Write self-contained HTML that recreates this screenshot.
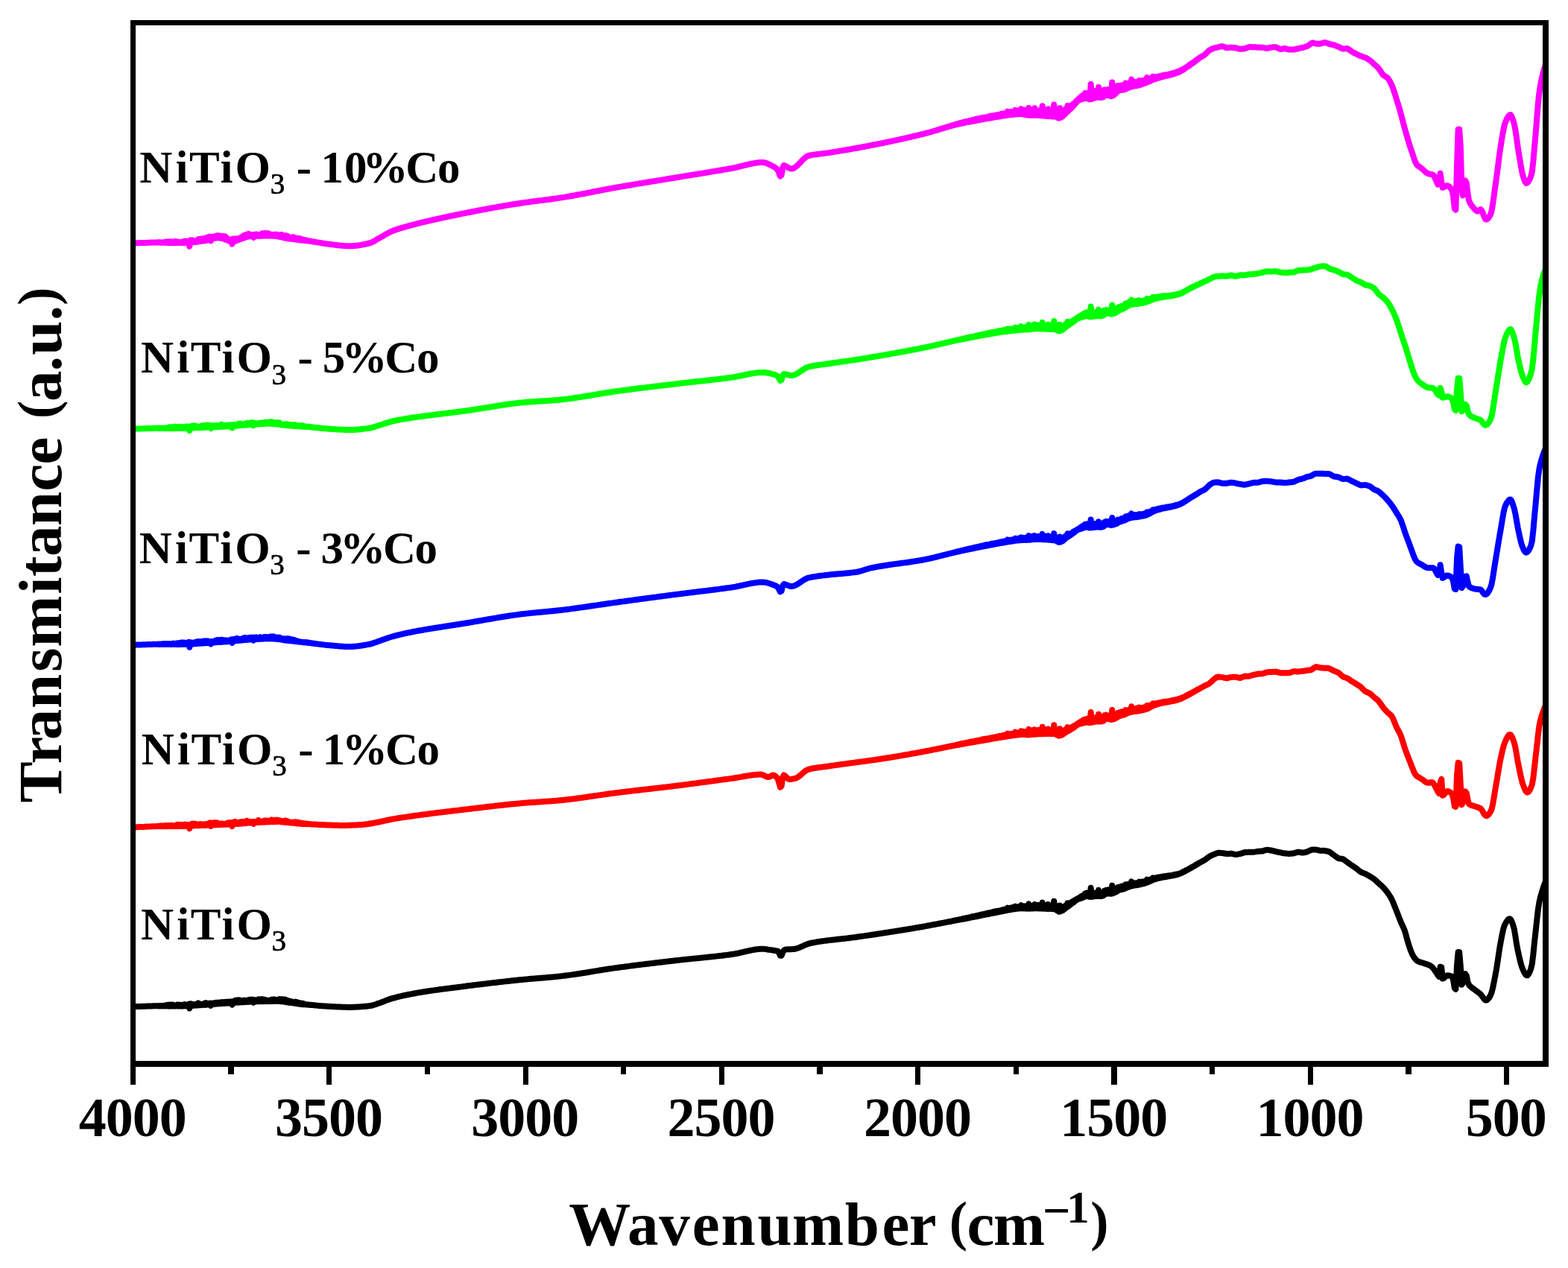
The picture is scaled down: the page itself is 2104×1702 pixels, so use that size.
<!DOCTYPE html>
<html lang="en">
<head>
<meta charset="utf-8">
<title>FTIR spectra of NiTiO3 and Co-doped NiTiO3</title>
<style>
html,body{margin:0;padding:0;background:#fff;}
body{width:2104px;height:1702px;overflow:hidden;}
svg{display:block;}
text{font-family:"Liberation Serif",serif;font-weight:bold;fill:#000;}
.tick{font-size:74px;}
.axis{font-size:83px;}
.lab{font-size:61px;}
.curve{fill:none;stroke-width:8;stroke-linejoin:round;stroke-linecap:butt;}
</style>
</head>
<body>
<svg width="2104" height="1702" viewBox="0 0 2104 1702">
<rect x="0" y="0" width="2104" height="1702" fill="#ffffff"/>
<defs><clipPath id="plot"><rect x="178.5" y="30" width="1895.5" height="1398"/></clipPath></defs>
<g clip-path="url(#plot)">
<path class="curve" stroke="#000000" d="M175.0,1351.3 176.6,1351.3 178.2,1351.2 179.8,1351.2 181.4,1351.1 183.0,1351.1 184.6,1351.0 186.2,1351.0 187.8,1350.9 189.4,1350.9 191.0,1350.8 192.6,1350.8 194.2,1350.7 195.8,1350.7 197.4,1350.6 199.0,1350.6 200.6,1350.5 202.2,1350.4 203.8,1350.4 205.4,1350.3 207.0,1350.3 208.6,1350.3 210.2,1350.3 211.5,1350.2 212.8,1350.4 214.1,1350.0 215.4,1350.4 216.7,1350.0 218.0,1350.4 219.3,1350.0 220.6,1350.4 221.9,1349.4 223.2,1350.4 224.5,1349.0 225.8,1350.4 227.1,1348.8 228.4,1350.4 229.7,1348.7 231.0,1350.4 232.3,1348.8 233.6,1350.4 234.9,1349.7 236.2,1350.4 237.5,1348.7 238.8,1350.4 240.1,1348.6 241.4,1350.4 242.7,1349.0 244.0,1350.4 245.3,1348.9 246.6,1350.3 247.9,1348.2 249.2,1350.2 250.5,1349.3 251.8,1350.1 253.1,1347.9 254.4,1353.5 255.7,1347.2 257.0,1349.8 258.3,1347.9 259.6,1349.7 260.9,1348.6 262.2,1349.5 263.5,1347.7 264.8,1349.4 266.1,1346.5 267.4,1349.2 268.7,1347.8 270.0,1349.0 271.3,1348.0 272.6,1348.8 273.9,1346.9 275.2,1348.7 276.5,1346.3 277.8,1348.5 279.1,1347.0 280.4,1348.3 281.7,1346.8 283.0,1349.8 284.3,1346.7 285.6,1347.9 286.9,1346.4 288.2,1347.7 289.5,1345.9 290.8,1347.5 292.1,1345.7 293.4,1347.3 294.7,1345.7 296.0,1347.1 297.3,1345.3 298.6,1346.9 299.9,1345.1 301.2,1346.8 302.5,1345.0 303.8,1346.6 305.1,1344.8 306.4,1346.4 307.7,1344.7 309.0,1346.2 310.3,1344.5 311.6,1348.7 312.9,1344.3 314.2,1345.9 315.5,1342.8 316.8,1345.7 318.1,1342.4 319.4,1345.6 320.7,1342.3 322.0,1345.4 323.3,1342.8 324.6,1345.2 325.9,1343.2 327.2,1345.1 328.5,1342.6 329.8,1344.9 331.1,1343.2 332.4,1344.8 333.7,1342.1 335.0,1344.6 336.3,1341.7 337.6,1344.5 338.9,1341.6 340.2,1345.8 341.5,1342.1 342.8,1344.3 344.1,1342.9 345.4,1344.2 346.7,1341.4 348.0,1344.2 349.3,1341.4 350.6,1344.1 351.9,1341.2 353.2,1344.1 354.5,1341.8 355.8,1344.0 357.1,1342.6 358.4,1344.0 359.7,1342.8 361.0,1343.9 362.3,1342.7 363.6,1343.9 364.9,1341.6 366.2,1343.9 367.5,1341.3 368.8,1343.8 370.1,1341.9 371.4,1343.8 372.7,1341.9 374.0,1343.8 375.3,1341.1 376.6,1344.0 377.9,1341.1 379.2,1344.3 380.5,1341.3 381.8,1344.7 383.1,1341.7 384.4,1345.1 385.7,1342.9 387.0,1345.5 388.3,1343.7 389.6,1345.8 390.9,1344.2 392.2,1346.1 393.5,1345.4 394.8,1346.5 396.1,1344.7 397.4,1346.9 398.7,1345.3 400.0,1347.3 401.3,1346.3 402.6,1347.7 403.9,1346.7 405.2,1348.0 406.5,1347.0 407.8,1348.3 409.1,1347.8 410.4,1348.5 411.7,1348.4 413.0,1348.7 414.3,1348.6 415.6,1348.9 416.9,1348.8 418.2,1349.0 419.8,1349.1 421.4,1349.3 423.0,1349.5 424.6,1349.6 426.2,1349.8 427.8,1349.9 429.4,1350.1 431.0,1350.2 432.6,1350.3 434.2,1350.4 435.8,1350.5 437.4,1350.6 439.0,1350.7 440.6,1350.8 442.2,1350.9 443.8,1351.0 445.4,1351.1 447.0,1351.2 448.6,1351.3 450.2,1351.3 451.8,1351.4 453.4,1351.5 455.0,1351.6 456.6,1351.6 458.2,1351.7 459.8,1351.7 461.4,1351.8 463.0,1351.8 464.6,1351.9 466.2,1351.9 467.8,1351.9 469.4,1351.9 471.0,1351.9 472.6,1351.9 474.2,1351.8 475.8,1351.8 477.4,1351.7 479.0,1351.6 480.6,1351.6 482.2,1351.5 483.8,1351.3 485.4,1351.2 487.0,1351.1 488.6,1351.0 490.2,1350.8 491.8,1350.7 493.4,1350.5 495.0,1350.3 496.6,1350.1 498.2,1349.8 499.8,1349.5 501.4,1349.0 503.0,1348.5 504.6,1347.9 506.2,1347.3 507.8,1346.8 509.4,1346.2 511.0,1345.7 512.6,1345.1 514.2,1344.5 515.8,1343.9 517.4,1343.2 519.0,1342.6 520.6,1342.0 522.2,1341.4 523.8,1340.9 525.4,1340.4 527.0,1339.9 528.6,1339.5 530.2,1339.1 531.8,1338.6 533.4,1338.2 535.0,1337.8 536.6,1337.4 538.2,1337.1 539.8,1336.7 541.4,1336.3 543.0,1336.0 544.6,1335.7 546.2,1335.3 547.8,1335.0 549.4,1334.7 551.0,1334.4 552.6,1334.1 554.2,1333.8 555.8,1333.5 557.4,1333.2 559.0,1332.9 560.6,1332.6 562.2,1332.3 563.8,1332.1 565.4,1331.8 567.0,1331.6 568.6,1331.3 570.2,1331.0 571.8,1330.8 573.4,1330.5 575.0,1330.3 576.6,1330.1 578.2,1329.8 579.8,1329.6 581.4,1329.4 583.0,1329.1 584.6,1328.9 586.2,1328.7 587.8,1328.5 589.4,1328.2 591.0,1328.0 592.6,1327.8 594.2,1327.6 595.8,1327.4 597.4,1327.2 599.0,1327.0 600.6,1326.8 602.2,1326.6 603.8,1326.4 605.4,1326.2 607.0,1326.0 608.6,1325.8 610.2,1325.6 611.8,1325.4 613.4,1325.2 615.0,1325.0 616.6,1324.8 618.2,1324.6 619.8,1324.4 621.4,1324.2 623.0,1324.0 624.6,1323.8 626.2,1323.5 627.8,1323.3 629.4,1323.1 631.0,1322.9 632.6,1322.7 634.2,1322.5 635.8,1322.3 637.4,1322.1 639.0,1321.9 640.6,1321.7 642.2,1321.5 643.8,1321.4 645.4,1321.2 647.0,1321.0 648.6,1320.8 650.2,1320.6 651.8,1320.4 653.4,1320.2 655.0,1320.0 656.6,1319.8 658.2,1319.6 659.8,1319.4 661.4,1319.2 663.0,1319.0 664.6,1318.9 666.2,1318.7 667.8,1318.5 669.4,1318.3 671.0,1318.1 672.6,1317.9 674.2,1317.8 675.8,1317.6 677.4,1317.4 679.0,1317.2 680.6,1317.0 682.2,1316.9 683.8,1316.7 685.4,1316.5 687.0,1316.3 688.6,1316.2 690.2,1316.0 691.8,1315.8 693.4,1315.7 695.0,1315.5 696.6,1315.3 698.2,1315.2 699.8,1315.0 701.4,1314.9 703.0,1314.7 704.6,1314.6 706.2,1314.4 707.8,1314.3 709.4,1314.1 711.0,1314.0 712.6,1313.8 714.2,1313.7 715.8,1313.6 717.4,1313.4 719.0,1313.3 720.6,1313.2 722.2,1313.0 723.8,1312.9 725.4,1312.8 727.0,1312.7 728.6,1312.5 730.2,1312.4 731.8,1312.3 733.4,1312.1 735.0,1312.0 736.6,1311.8 738.2,1311.7 739.8,1311.6 741.4,1311.4 743.0,1311.3 744.6,1311.1 746.2,1310.9 747.8,1310.8 749.4,1310.6 751.0,1310.4 752.6,1310.3 754.2,1310.1 755.8,1309.9 757.4,1309.7 759.0,1309.5 760.6,1309.3 762.2,1309.1 763.8,1308.9 765.4,1308.6 767.0,1308.4 768.6,1308.2 770.2,1307.9 771.8,1307.7 773.4,1307.5 775.0,1307.2 776.6,1307.0 778.2,1306.7 779.8,1306.5 781.4,1306.2 783.0,1306.0 784.6,1305.7 786.2,1305.5 787.8,1305.2 789.4,1305.0 791.0,1304.7 792.6,1304.4 794.2,1304.2 795.8,1303.9 797.4,1303.6 799.0,1303.4 800.6,1303.1 802.2,1302.9 803.8,1302.6 805.4,1302.3 807.0,1302.1 808.6,1301.8 810.2,1301.6 811.8,1301.3 813.4,1301.1 815.0,1300.8 816.6,1300.6 818.2,1300.3 819.8,1300.1 821.4,1299.9 823.0,1299.6 824.6,1299.4 826.2,1299.2 827.8,1299.0 829.4,1298.8 831.0,1298.5 832.6,1298.3 834.2,1298.1 835.8,1297.9 837.4,1297.7 839.0,1297.5 840.6,1297.3 842.2,1297.1 843.8,1296.9 845.4,1296.6 847.0,1296.4 848.6,1296.2 850.2,1296.0 851.8,1295.8 853.4,1295.6 855.0,1295.4 856.6,1295.2 858.2,1295.0 859.8,1294.8 861.4,1294.6 863.0,1294.4 864.6,1294.2 866.2,1294.0 867.8,1293.8 869.4,1293.7 871.0,1293.5 872.6,1293.3 874.2,1293.1 875.8,1292.9 877.4,1292.7 879.0,1292.5 880.6,1292.3 882.2,1292.1 883.8,1291.9 885.4,1291.7 887.0,1291.5 888.6,1291.4 890.2,1291.2 891.8,1291.0 893.4,1290.8 895.0,1290.6 896.6,1290.4 898.2,1290.2 899.8,1290.0 901.4,1289.9 903.0,1289.7 904.6,1289.5 906.2,1289.3 907.8,1289.1 909.4,1288.9 911.0,1288.8 912.6,1288.6 914.2,1288.4 915.8,1288.2 917.4,1288.1 919.0,1287.9 920.6,1287.7 922.2,1287.6 923.8,1287.4 925.4,1287.2 927.0,1287.1 928.6,1286.9 930.2,1286.7 931.8,1286.6 933.4,1286.4 935.0,1286.3 936.6,1286.1 938.2,1285.9 939.8,1285.8 941.4,1285.6 943.0,1285.4 944.6,1285.3 946.2,1285.1 947.8,1285.0 949.4,1284.8 951.0,1284.6 952.6,1284.5 954.2,1284.3 955.8,1284.1 957.4,1283.9 959.0,1283.8 960.6,1283.6 962.2,1283.4 963.8,1283.2 965.4,1283.0 967.0,1282.9 968.6,1282.7 970.2,1282.5 971.8,1282.3 973.4,1282.1 975.0,1281.9 976.6,1281.7 978.2,1281.5 979.8,1281.2 981.4,1281.0 983.0,1280.8 984.6,1280.6 986.2,1280.3 987.8,1280.0 989.4,1279.7 991.0,1279.3 992.6,1279.0 994.2,1278.6 995.8,1278.2 997.4,1277.9 999.0,1277.5 1000.6,1277.1 1002.2,1276.7 1003.8,1276.4 1005.4,1276.0 1007.0,1275.7 1008.6,1275.4 1010.2,1275.1 1011.8,1274.8 1013.4,1274.5 1015.0,1274.3 1016.6,1274.1 1018.2,1273.9 1019.8,1273.8 1021.4,1273.7 1023.0,1273.7 1024.6,1273.7 1026.2,1273.9 1027.8,1274.1 1029.4,1274.4 1031.0,1274.7 1032.6,1274.9 1034.2,1275.1 1035.8,1275.3 1037.4,1275.6 1039.0,1275.8 1040.6,1276.1 1042.2,1276.4 1043.8,1276.9 1045.4,1279.2 1047.0,1282.8 1048.6,1282.7 1050.2,1278.6 1051.8,1275.8 1053.4,1274.7 1055.0,1274.4 1056.6,1274.3 1058.2,1274.2 1059.8,1274.2 1061.4,1274.2 1063.0,1274.1 1064.6,1274.0 1066.2,1273.8 1067.8,1273.5 1069.4,1273.0 1071.0,1272.5 1072.6,1271.9 1074.2,1271.2 1075.8,1270.5 1077.4,1269.8 1079.0,1269.0 1080.6,1268.3 1082.2,1267.7 1083.8,1267.1 1085.4,1266.6 1087.0,1266.1 1088.6,1265.8 1090.2,1265.5 1091.8,1265.2 1093.4,1264.9 1095.0,1264.6 1096.6,1264.3 1098.2,1264.1 1099.8,1263.8 1101.4,1263.6 1103.0,1263.3 1104.6,1263.1 1106.2,1262.9 1107.8,1262.7 1109.4,1262.5 1111.0,1262.3 1112.6,1262.1 1114.2,1261.9 1115.8,1261.7 1117.4,1261.5 1119.0,1261.4 1120.6,1261.2 1122.2,1261.0 1123.8,1260.8 1125.4,1260.6 1127.0,1260.5 1128.6,1260.3 1130.2,1260.1 1131.8,1260.0 1133.4,1259.8 1135.0,1259.6 1136.6,1259.4 1138.2,1259.2 1139.8,1259.0 1141.4,1258.8 1143.0,1258.6 1144.6,1258.4 1146.2,1258.2 1147.8,1258.0 1149.4,1257.8 1151.0,1257.5 1152.6,1257.3 1154.2,1257.1 1155.8,1256.8 1157.4,1256.6 1159.0,1256.4 1160.6,1256.1 1162.2,1255.9 1163.8,1255.7 1165.4,1255.4 1167.0,1255.2 1168.6,1255.0 1170.2,1254.7 1171.8,1254.5 1173.4,1254.3 1175.0,1254.0 1176.6,1253.8 1178.2,1253.5 1179.8,1253.3 1181.4,1253.1 1183.0,1252.8 1184.6,1252.6 1186.2,1252.3 1187.8,1252.1 1189.4,1251.8 1191.0,1251.6 1192.6,1251.3 1194.2,1251.1 1195.8,1250.8 1197.4,1250.6 1199.0,1250.3 1200.6,1250.1 1202.2,1249.8 1203.8,1249.6 1205.4,1249.3 1207.0,1249.1 1208.6,1248.8 1210.2,1248.5 1211.8,1248.3 1213.4,1248.0 1215.0,1247.7 1216.6,1247.5 1218.2,1247.2 1219.8,1247.0 1221.4,1246.7 1223.0,1246.4 1224.6,1246.2 1226.2,1245.9 1227.8,1245.6 1229.4,1245.3 1231.0,1245.1 1232.6,1244.8 1234.2,1244.5 1235.8,1244.2 1237.4,1244.0 1239.0,1243.7 1240.6,1243.4 1242.2,1243.1 1243.8,1242.8 1245.4,1242.5 1247.0,1242.2 1248.6,1241.9 1250.2,1241.6 1251.8,1241.3 1253.4,1241.0 1255.0,1240.7 1256.6,1240.4 1258.2,1240.1 1259.8,1239.8 1261.4,1239.5 1263.0,1239.2 1264.6,1238.9 1266.2,1238.6 1267.8,1238.3 1269.4,1237.9 1271.0,1237.6 1272.6,1237.3 1273.9,1237.0 1275.2,1236.9 1276.5,1236.4 1277.8,1236.4 1279.1,1235.8 1280.4,1235.9 1281.7,1235.3 1283.0,1235.4 1284.3,1234.8 1285.6,1234.9 1286.9,1234.3 1288.2,1234.4 1289.5,1233.7 1290.8,1234.0 1292.1,1233.0 1293.4,1233.5 1294.7,1232.5 1296.0,1233.0 1297.3,1232.0 1298.6,1232.5 1299.9,1231.5 1301.2,1231.9 1302.5,1230.8 1303.8,1231.4 1305.1,1230.2 1306.4,1230.9 1307.7,1229.8 1309.0,1230.4 1310.3,1229.1 1311.6,1229.8 1312.9,1228.5 1314.2,1229.3 1315.5,1227.9 1316.8,1228.8 1318.1,1227.4 1319.4,1228.2 1320.7,1226.8 1322.0,1227.7 1323.3,1226.2 1324.6,1227.2 1325.9,1225.6 1327.2,1226.7 1328.5,1225.1 1329.8,1226.1 1331.1,1224.5 1332.4,1225.6 1333.7,1223.8 1335.0,1225.1 1336.3,1223.3 1337.6,1224.6 1338.9,1222.7 1340.2,1224.1 1341.5,1222.5 1342.8,1223.6 1344.1,1221.6 1345.4,1223.1 1346.7,1221.0 1348.0,1222.6 1349.3,1220.5 1350.6,1222.1 1351.9,1218.5 1353.2,1221.6 1354.5,1219.1 1355.8,1221.1 1357.1,1218.3 1358.4,1220.6 1359.7,1217.8 1361.0,1220.2 1362.3,1216.6 1363.6,1219.9 1364.9,1217.4 1366.2,1219.6 1367.5,1217.2 1368.8,1219.3 1370.1,1215.1 1371.4,1219.3 1372.7,1216.1 1374.0,1219.4 1375.3,1216.3 1376.6,1219.5 1377.9,1216.1 1379.2,1219.6 1380.5,1213.4 1381.8,1219.6 1383.1,1215.9 1384.4,1219.4 1385.7,1215.9 1387.0,1219.3 1388.3,1214.0 1389.6,1219.3 1390.9,1215.7 1392.2,1219.3 1393.5,1214.8 1394.8,1219.4 1396.1,1214.9 1397.4,1219.4 1398.7,1211.5 1400.0,1219.6 1401.3,1214.9 1402.6,1219.7 1403.9,1215.5 1405.2,1219.8 1406.5,1213.9 1407.8,1219.9 1409.1,1216.0 1410.4,1220.0 1411.7,1215.6 1413.0,1220.1 1414.3,1209.6 1415.6,1220.2 1416.9,1216.1 1418.2,1221.9 1419.5,1218.0 1420.8,1223.6 1422.1,1215.5 1423.4,1223.4 1424.7,1218.2 1426.0,1222.2 1427.3,1217.1 1428.6,1220.2 1429.9,1215.5 1431.2,1218.2 1432.5,1212.2 1433.8,1216.4 1435.1,1212.5 1436.4,1214.4 1437.7,1210.9 1439.0,1212.5 1440.3,1209.3 1441.6,1210.5 1442.9,1207.9 1444.2,1208.5 1445.5,1206.4 1446.8,1206.9 1448.1,1204.9 1449.4,1206.1 1450.7,1203.1 1452.0,1205.3 1453.3,1201.8 1454.6,1204.3 1455.9,1199.5 1457.2,1203.1 1458.5,1198.5 1459.8,1203.2 1461.1,1198.4 1462.4,1203.8 1463.7,1191.8 1465.0,1203.8 1466.3,1198.6 1467.6,1203.4 1468.9,1198.6 1470.2,1203.0 1471.5,1198.7 1472.8,1202.8 1474.1,1194.8 1475.4,1202.9 1476.7,1198.9 1478.0,1203.0 1479.3,1198.6 1480.6,1202.3 1481.9,1195.7 1483.2,1200.3 1484.5,1194.7 1485.8,1199.3 1487.1,1194.3 1488.4,1199.4 1489.7,1194.9 1491.0,1199.6 1492.3,1188.6 1493.6,1199.2 1494.9,1194.6 1496.2,1198.1 1497.5,1193.1 1498.8,1196.7 1500.1,1191.1 1501.4,1195.0 1502.7,1190.6 1504.0,1194.2 1505.3,1189.5 1506.6,1193.6 1507.9,1189.0 1509.2,1192.9 1510.5,1187.3 1511.8,1191.7 1513.1,1187.1 1514.4,1190.7 1515.7,1186.4 1517.0,1189.8 1518.3,1183.3 1519.6,1189.1 1520.9,1185.2 1522.2,1188.6 1523.5,1185.3 1524.8,1188.2 1526.1,1185.2 1527.4,1187.7 1528.7,1183.7 1530.0,1187.2 1531.3,1183.6 1532.6,1186.6 1533.9,1183.4 1535.2,1185.9 1536.5,1183.0 1537.8,1185.1 1539.1,1180.6 1540.4,1184.2 1541.7,1181.3 1543.0,1183.0 1544.3,1180.1 1545.6,1181.8 1546.9,1178.3 1548.2,1180.7 1549.5,1178.7 1550.8,1179.8 1552.1,1178.1 1553.4,1179.1 1554.7,1177.5 1556.0,1178.5 1557.3,1177.1 1558.6,1178.0 1559.9,1176.7 1561.2,1177.5 1562.5,1176.2 1563.8,1177.1 1565.1,1175.8 1566.4,1176.6 1567.7,1175.4 1569.0,1176.2 1570.3,1175.1 1571.6,1175.7 1572.9,1174.7 1574.2,1175.2 1575.5,1174.1 1576.8,1174.7 1578.1,1173.5 1579.4,1174.0 1580.7,1173.0 1582.0,1173.3 1583.3,1172.2 1584.6,1172.3 1585.9,1170.9 1587.2,1171.1 1588.5,1169.6 1589.8,1169.8 1591.1,1168.3 1592.4,1168.3 1593.7,1166.9 1595.0,1166.8 1596.3,1165.5 1597.6,1165.3 1598.9,1164.0 1600.2,1163.9 1601.5,1162.6 1602.8,1162.3 1604.1,1161.0 1605.4,1160.8 1606.7,1159.5 1608.0,1159.3 1609.3,1158.1 1610.6,1157.7 1611.9,1156.8 1613.2,1156.3 1614.5,1155.4 1615.8,1154.8 1617.4,1153.7 1619.0,1152.5 1620.6,1151.3 1622.2,1150.1 1623.8,1149.2 1625.4,1148.4 1627.0,1147.7 1628.6,1147.0 1630.2,1146.3 1631.8,1145.7 1633.4,1145.1 1635.0,1144.8 1636.6,1144.8 1638.2,1144.9 1639.8,1145.0 1641.4,1145.2 1643.0,1145.5 1644.6,1145.8 1646.2,1146.1 1647.8,1146.0 1649.4,1145.9 1651.0,1145.8 1652.6,1145.8 1654.2,1146.2 1655.8,1146.6 1657.4,1146.9 1659.0,1146.9 1660.6,1146.7 1662.2,1146.4 1663.8,1146.1 1665.4,1145.6 1667.0,1145.1 1668.6,1144.6 1670.2,1144.1 1671.8,1144.0 1673.4,1143.9 1675.0,1143.8 1676.6,1143.7 1678.2,1143.7 1679.8,1143.7 1681.4,1143.8 1683.0,1143.6 1684.6,1143.4 1686.2,1143.1 1687.8,1142.8 1689.4,1142.7 1691.0,1142.6 1692.6,1142.5 1694.2,1142.4 1695.8,1141.8 1697.4,1141.3 1699.0,1140.9 1700.6,1140.7 1702.2,1140.9 1703.8,1141.2 1705.4,1141.5 1707.0,1141.8 1708.6,1142.1 1710.2,1142.5 1711.8,1143.0 1713.4,1143.4 1715.0,1143.7 1716.6,1144.0 1718.2,1144.3 1719.8,1144.8 1721.4,1145.1 1723.0,1145.3 1724.6,1145.5 1726.2,1145.6 1727.8,1145.8 1729.4,1145.9 1731.0,1145.8 1732.6,1145.7 1734.2,1145.5 1735.8,1145.4 1737.4,1144.9 1739.0,1144.4 1740.6,1144.0 1742.2,1143.6 1743.8,1143.9 1745.4,1144.2 1747.0,1144.5 1748.6,1144.6 1750.2,1144.3 1751.8,1143.9 1753.4,1143.5 1755.0,1142.8 1756.6,1142.1 1758.2,1141.4 1759.8,1140.7 1761.4,1140.4 1763.0,1140.4 1764.6,1140.4 1766.2,1140.6 1767.8,1140.9 1769.4,1141.3 1771.0,1141.7 1772.6,1141.9 1774.2,1141.8 1775.8,1141.7 1777.4,1141.9 1779.0,1142.2 1780.6,1142.5 1782.2,1142.9 1783.8,1143.4 1785.4,1144.5 1787.0,1145.7 1788.6,1146.9 1790.2,1148.1 1791.8,1149.2 1793.4,1150.3 1795.0,1151.5 1796.6,1152.3 1798.2,1152.5 1799.8,1152.7 1801.4,1152.9 1803.0,1153.7 1804.6,1154.9 1806.2,1156.1 1807.8,1157.3 1809.4,1158.4 1811.0,1159.5 1812.6,1160.7 1814.2,1161.8 1815.8,1162.9 1817.4,1163.9 1819.0,1165.0 1820.6,1166.2 1822.2,1167.5 1823.8,1168.8 1825.4,1170.1 1827.0,1171.0 1828.6,1171.6 1830.2,1172.2 1831.8,1172.8 1833.4,1173.6 1835.0,1174.5 1836.6,1175.4 1838.2,1176.3 1839.8,1177.3 1841.4,1178.3 1843.0,1179.3 1844.6,1180.6 1846.2,1182.0 1847.8,1183.5 1849.4,1185.1 1851.0,1186.5 1852.6,1187.9 1854.2,1189.3 1855.8,1190.8 1857.4,1192.6 1859.0,1194.5 1860.6,1196.5 1862.2,1198.7 1863.8,1201.0 1865.4,1203.4 1867.0,1206.3 1868.6,1209.6 1870.2,1213.4 1871.8,1217.4 1873.4,1221.4 1875.0,1225.5 1876.6,1229.6 1878.2,1233.7 1879.8,1237.9 1881.4,1241.3 1883.0,1244.7 1884.6,1248.6 1886.2,1253.5 1887.8,1259.7 1889.4,1265.1 1891.0,1270.3 1892.6,1275.1 1894.2,1279.1 1895.8,1282.4 1897.4,1285.0 1899.0,1287.1 1900.6,1288.8 1902.2,1290.1 1903.8,1290.8 1905.4,1291.4 1907.0,1291.9 1908.6,1292.3 1910.2,1292.8 1911.8,1293.4 1913.4,1293.9 1915.0,1294.4 1916.6,1295.0 1918.2,1295.7 1919.8,1296.6 1921.4,1297.8 1923.0,1299.6 1924.6,1301.7 1926.2,1304.0 1927.8,1306.2 1929.4,1309.0 1931.0,1311.0 1932.6,1297.8 1934.2,1298.1 1935.8,1313.5 1937.4,1312.9 1939.0,1311.3 1940.6,1309.8 1942.2,1309.3 1943.8,1309.4 1945.4,1309.7 1947.0,1310.2 1948.6,1310.9 1950.2,1316.2 1951.8,1326.3 1953.4,1327.8 1955.0,1295.8 1956.6,1278.0 1958.2,1278.0 1959.8,1297.1 1961.4,1321.7 1963.0,1319.4 1964.6,1312.5 1966.2,1307.2 1967.8,1309.6 1969.4,1317.9 1971.0,1321.7 1972.6,1323.7 1974.2,1325.1 1975.8,1326.3 1977.4,1327.4 1979.0,1328.5 1980.6,1329.8 1982.2,1331.0 1983.8,1332.1 1985.4,1333.3 1987.0,1334.8 1988.6,1336.9 1990.2,1339.2 1991.8,1341.3 1993.4,1342.6 1995.0,1342.5 1996.6,1341.2 1998.2,1339.1 1999.8,1336.4 2001.4,1332.6 2003.0,1326.4 2004.6,1318.7 2006.2,1310.4 2007.8,1301.9 2009.4,1291.8 2011.0,1281.0 2012.6,1270.7 2014.2,1261.9 2015.8,1253.6 2017.4,1246.3 2019.0,1241.6 2020.6,1238.6 2022.2,1236.0 2023.8,1234.1 2025.4,1233.2 2027.0,1234.0 2028.6,1237.0 2030.2,1241.4 2031.8,1247.1 2033.4,1256.6 2035.0,1267.1 2036.6,1275.4 2038.2,1282.9 2039.8,1289.9 2041.4,1295.8 2043.0,1300.2 2044.6,1303.8 2046.2,1306.9 2047.8,1308.9 2049.4,1309.3 2051.0,1307.7 2052.6,1304.6 2054.2,1300.3 2055.8,1293.9 2057.4,1280.7 2059.0,1264.7 2060.6,1250.3 2062.2,1235.3 2063.8,1221.3 2065.4,1211.2 2067.0,1204.2 2068.6,1198.5 2070.2,1193.4 2071.8,1188.6 2073.4,1184.4 2074.0,1183.0"/>
<path class="curve" stroke="#ff0000" d="M175.0,1110.4 176.6,1110.4 178.2,1110.3 179.8,1110.3 181.4,1110.3 183.0,1110.2 184.6,1110.2 186.2,1110.1 187.8,1110.1 189.4,1110.0 191.0,1109.9 192.6,1109.9 194.2,1109.8 195.8,1109.7 197.4,1109.6 199.0,1109.6 200.6,1109.5 202.2,1109.4 203.8,1109.3 205.4,1109.3 207.0,1109.2 208.6,1109.2 210.2,1109.1 211.5,1108.9 212.8,1109.2 214.1,1108.6 215.4,1109.2 216.7,1108.4 218.0,1109.2 219.3,1108.5 220.6,1109.1 221.9,1108.1 223.2,1109.1 224.5,1108.1 225.8,1109.1 227.1,1108.1 228.4,1109.0 229.7,1107.9 231.0,1109.0 232.3,1108.0 233.6,1109.0 234.9,1108.1 236.2,1109.0 237.5,1107.0 238.8,1108.9 240.1,1106.9 241.4,1108.9 242.7,1107.2 244.0,1108.9 245.3,1107.3 246.6,1108.8 247.9,1106.8 249.2,1108.7 250.5,1106.9 251.8,1108.6 253.1,1107.5 254.4,1112.2 255.7,1106.6 257.0,1108.4 258.3,1105.7 259.6,1108.3 260.9,1105.6 262.2,1108.2 263.5,1106.1 264.8,1108.1 266.1,1106.9 267.4,1108.0 268.7,1106.2 270.0,1107.9 271.3,1106.4 272.6,1107.8 273.9,1106.5 275.2,1107.7 276.5,1106.3 277.8,1107.6 279.1,1105.8 280.4,1107.5 281.7,1104.5 283.0,1109.0 284.3,1104.5 285.6,1107.3 286.9,1104.5 288.2,1107.2 289.5,1104.2 290.8,1107.1 292.1,1104.7 293.4,1107.0 294.7,1105.8 296.0,1106.9 297.3,1105.5 298.6,1106.8 299.9,1105.8 301.2,1106.7 302.5,1105.8 303.8,1106.6 305.1,1104.7 306.4,1106.5 307.7,1104.2 309.0,1106.3 310.3,1104.3 311.6,1109.1 312.9,1103.8 314.2,1106.0 315.5,1103.0 316.8,1105.9 318.1,1103.9 319.4,1105.7 320.7,1104.1 322.0,1105.5 323.3,1103.3 324.6,1105.3 325.9,1102.9 327.2,1105.1 328.5,1103.8 329.8,1104.9 331.1,1101.7 332.4,1104.7 333.7,1102.7 335.0,1104.5 336.3,1103.3 337.6,1104.4 338.9,1103.2 340.2,1105.8 341.5,1102.9 342.8,1104.1 344.1,1102.7 345.4,1103.9 346.7,1101.0 348.0,1103.8 349.3,1102.5 350.6,1103.7 351.9,1102.7 353.2,1103.5 354.5,1101.8 355.8,1103.4 357.1,1101.4 358.4,1103.3 359.7,1101.9 361.0,1103.2 362.3,1101.5 363.6,1103.1 364.9,1100.5 366.2,1103.0 367.5,1100.9 368.8,1103.0 370.1,1100.7 371.4,1102.9 372.7,1100.8 374.0,1102.9 375.3,1101.6 376.6,1103.0 377.9,1102.0 379.2,1103.3 380.5,1102.4 381.8,1103.5 383.1,1101.4 384.4,1103.9 385.7,1102.2 387.0,1104.1 388.3,1103.3 389.6,1104.4 390.9,1103.6 392.2,1104.6 393.5,1103.7 394.8,1104.8 396.1,1103.5 397.4,1105.1 398.7,1103.7 400.0,1105.4 401.3,1104.3 402.6,1105.6 403.9,1104.7 405.2,1105.9 406.5,1105.0 407.8,1106.0 409.1,1105.4 410.4,1106.2 411.7,1105.5 413.0,1106.2 414.3,1105.9 415.6,1106.3 416.9,1106.2 418.2,1106.4 419.8,1106.4 421.4,1106.5 423.0,1106.6 424.6,1106.7 426.2,1106.8 427.8,1106.9 429.4,1107.0 431.0,1107.0 432.6,1107.1 434.2,1107.2 435.8,1107.2 437.4,1107.3 439.0,1107.4 440.6,1107.4 442.2,1107.5 443.8,1107.5 445.4,1107.6 447.0,1107.7 448.6,1107.7 450.2,1107.8 451.8,1107.8 453.4,1107.8 455.0,1107.9 456.6,1107.9 458.2,1107.9 459.8,1107.9 461.4,1107.9 463.0,1107.9 464.6,1107.9 466.2,1107.8 467.8,1107.8 469.4,1107.7 471.0,1107.7 472.6,1107.6 474.2,1107.5 475.8,1107.5 477.4,1107.4 479.0,1107.3 480.6,1107.2 482.2,1107.1 483.8,1107.0 485.4,1106.9 487.0,1106.8 488.6,1106.7 490.2,1106.5 491.8,1106.3 493.4,1106.1 495.0,1105.8 496.6,1105.5 498.2,1105.2 499.8,1105.0 501.4,1104.7 503.0,1104.4 504.6,1104.1 506.2,1103.8 507.8,1103.5 509.4,1103.1 511.0,1102.8 512.6,1102.5 514.2,1102.1 515.8,1101.7 517.4,1101.4 519.0,1101.0 520.6,1100.7 522.2,1100.3 523.8,1100.0 525.4,1099.7 527.0,1099.4 528.6,1099.1 530.2,1098.9 531.8,1098.6 533.4,1098.3 535.0,1098.1 536.6,1097.8 538.2,1097.6 539.8,1097.3 541.4,1097.1 543.0,1096.9 544.6,1096.6 546.2,1096.4 547.8,1096.2 549.4,1095.9 551.0,1095.7 552.6,1095.5 554.2,1095.3 555.8,1095.0 557.4,1094.8 559.0,1094.6 560.6,1094.4 562.2,1094.2 563.8,1093.9 565.4,1093.7 567.0,1093.5 568.6,1093.3 570.2,1093.1 571.8,1092.9 573.4,1092.7 575.0,1092.5 576.6,1092.3 578.2,1092.1 579.8,1091.8 581.4,1091.6 583.0,1091.4 584.6,1091.2 586.2,1091.0 587.8,1090.8 589.4,1090.6 591.0,1090.4 592.6,1090.3 594.2,1090.1 595.8,1089.9 597.4,1089.7 599.0,1089.5 600.6,1089.3 602.2,1089.1 603.8,1088.9 605.4,1088.7 607.0,1088.5 608.6,1088.3 610.2,1088.1 611.8,1087.9 613.4,1087.8 615.0,1087.6 616.6,1087.4 618.2,1087.2 619.8,1087.0 621.4,1086.8 623.0,1086.6 624.6,1086.4 626.2,1086.3 627.8,1086.1 629.4,1085.9 631.0,1085.7 632.6,1085.5 634.2,1085.3 635.8,1085.1 637.4,1084.9 639.0,1084.7 640.6,1084.5 642.2,1084.4 643.8,1084.2 645.4,1084.0 647.0,1083.8 648.6,1083.6 650.2,1083.4 651.8,1083.2 653.4,1083.0 655.0,1082.8 656.6,1082.7 658.2,1082.5 659.8,1082.3 661.4,1082.1 663.0,1081.9 664.6,1081.7 666.2,1081.6 667.8,1081.4 669.4,1081.2 671.0,1081.0 672.6,1080.8 674.2,1080.7 675.8,1080.5 677.4,1080.3 679.0,1080.1 680.6,1080.0 682.2,1079.8 683.8,1079.6 685.4,1079.5 687.0,1079.3 688.6,1079.2 690.2,1079.0 691.8,1078.9 693.4,1078.7 695.0,1078.6 696.6,1078.4 698.2,1078.3 699.8,1078.1 701.4,1078.0 703.0,1077.8 704.6,1077.7 706.2,1077.6 707.8,1077.5 709.4,1077.3 711.0,1077.2 712.6,1077.1 714.2,1077.0 715.8,1076.9 717.4,1076.8 719.0,1076.7 720.6,1076.6 722.2,1076.5 723.8,1076.4 725.4,1076.3 727.0,1076.1 728.6,1076.0 730.2,1075.9 731.8,1075.8 733.4,1075.7 735.0,1075.6 736.6,1075.5 738.2,1075.4 739.8,1075.3 741.4,1075.1 743.0,1075.0 744.6,1074.9 746.2,1074.8 747.8,1074.6 749.4,1074.5 751.0,1074.3 752.6,1074.2 754.2,1074.0 755.8,1073.9 757.4,1073.7 759.0,1073.5 760.6,1073.3 762.2,1073.2 763.8,1073.0 765.4,1072.8 767.0,1072.6 768.6,1072.4 770.2,1072.2 771.8,1072.0 773.4,1071.8 775.0,1071.5 776.6,1071.3 778.2,1071.1 779.8,1070.9 781.4,1070.7 783.0,1070.4 784.6,1070.2 786.2,1070.0 787.8,1069.7 789.4,1069.5 791.0,1069.3 792.6,1069.0 794.2,1068.8 795.8,1068.6 797.4,1068.3 799.0,1068.1 800.6,1067.9 802.2,1067.6 803.8,1067.4 805.4,1067.2 807.0,1066.9 808.6,1066.7 810.2,1066.5 811.8,1066.2 813.4,1066.0 815.0,1065.8 816.6,1065.5 818.2,1065.3 819.8,1065.1 821.4,1064.9 823.0,1064.7 824.6,1064.5 826.2,1064.3 827.8,1064.1 829.4,1063.9 831.0,1063.7 832.6,1063.5 834.2,1063.3 835.8,1063.1 837.4,1062.9 839.0,1062.7 840.6,1062.5 842.2,1062.3 843.8,1062.1 845.4,1061.9 847.0,1061.8 848.6,1061.6 850.2,1061.4 851.8,1061.2 853.4,1061.0 855.0,1060.8 856.6,1060.7 858.2,1060.5 859.8,1060.3 861.4,1060.1 863.0,1059.9 864.6,1059.7 866.2,1059.6 867.8,1059.4 869.4,1059.2 871.0,1059.0 872.6,1058.8 874.2,1058.7 875.8,1058.5 877.4,1058.3 879.0,1058.1 880.6,1057.9 882.2,1057.7 883.8,1057.6 885.4,1057.4 887.0,1057.2 888.6,1057.0 890.2,1056.8 891.8,1056.6 893.4,1056.4 895.0,1056.3 896.6,1056.1 898.2,1055.9 899.8,1055.7 901.4,1055.5 903.0,1055.3 904.6,1055.1 906.2,1054.9 907.8,1054.7 909.4,1054.5 911.0,1054.3 912.6,1054.1 914.2,1053.9 915.8,1053.7 917.4,1053.5 919.0,1053.3 920.6,1053.1 922.2,1052.9 923.8,1052.6 925.4,1052.4 927.0,1052.2 928.6,1052.0 930.2,1051.8 931.8,1051.6 933.4,1051.4 935.0,1051.2 936.6,1051.0 938.2,1050.7 939.8,1050.5 941.4,1050.3 943.0,1050.1 944.6,1049.9 946.2,1049.7 947.8,1049.5 949.4,1049.2 951.0,1049.0 952.6,1048.8 954.2,1048.6 955.8,1048.4 957.4,1048.2 959.0,1047.9 960.6,1047.7 962.2,1047.5 963.8,1047.3 965.4,1047.1 967.0,1046.9 968.6,1046.6 970.2,1046.4 971.8,1046.2 973.4,1046.0 975.0,1045.8 976.6,1045.6 978.2,1045.4 979.8,1045.1 981.4,1044.9 983.0,1044.7 984.6,1044.5 986.2,1044.2 987.8,1044.0 989.4,1043.7 991.0,1043.4 992.6,1043.1 994.2,1042.9 995.8,1042.6 997.4,1042.3 999.0,1042.0 1000.6,1041.7 1002.2,1041.4 1003.8,1041.2 1005.4,1040.9 1007.0,1040.7 1008.6,1040.5 1010.2,1040.3 1011.8,1040.1 1013.4,1039.9 1015.0,1039.8 1016.6,1039.7 1018.2,1039.6 1019.8,1039.6 1021.4,1039.6 1023.0,1040.0 1024.6,1040.6 1026.2,1041.4 1027.8,1042.2 1029.4,1042.8 1031.0,1043.0 1032.6,1042.6 1034.2,1041.8 1035.8,1040.9 1037.4,1040.4 1039.0,1040.8 1040.6,1041.8 1042.2,1043.4 1043.8,1045.5 1045.4,1050.9 1047.0,1056.6 1048.6,1055.1 1050.2,1043.5 1051.8,1040.5 1053.4,1041.5 1055.0,1043.0 1056.6,1044.6 1058.2,1045.7 1059.8,1046.0 1061.4,1045.9 1063.0,1045.7 1064.6,1045.3 1066.2,1045.0 1067.8,1044.6 1069.4,1043.9 1071.0,1042.9 1072.6,1041.7 1074.2,1040.4 1075.8,1039.0 1077.4,1037.6 1079.0,1036.2 1080.6,1035.0 1082.2,1033.9 1083.8,1033.1 1085.4,1032.6 1087.0,1032.2 1088.6,1031.8 1090.2,1031.5 1091.8,1031.2 1093.4,1030.9 1095.0,1030.7 1096.6,1030.4 1098.2,1030.2 1099.8,1030.0 1101.4,1029.8 1103.0,1029.6 1104.6,1029.4 1106.2,1029.2 1107.8,1029.0 1109.4,1028.8 1111.0,1028.6 1112.6,1028.3 1114.2,1028.1 1115.8,1027.8 1117.4,1027.6 1119.0,1027.4 1120.6,1027.1 1122.2,1026.9 1123.8,1026.7 1125.4,1026.5 1127.0,1026.2 1128.6,1026.0 1130.2,1025.8 1131.8,1025.6 1133.4,1025.4 1135.0,1025.2 1136.6,1024.9 1138.2,1024.7 1139.8,1024.5 1141.4,1024.3 1143.0,1024.1 1144.6,1023.9 1146.2,1023.7 1147.8,1023.4 1149.4,1023.2 1151.0,1023.0 1152.6,1022.8 1154.2,1022.6 1155.8,1022.4 1157.4,1022.2 1159.0,1021.9 1160.6,1021.7 1162.2,1021.5 1163.8,1021.3 1165.4,1021.1 1167.0,1020.8 1168.6,1020.6 1170.2,1020.4 1171.8,1020.2 1173.4,1019.9 1175.0,1019.7 1176.6,1019.5 1178.2,1019.2 1179.8,1019.0 1181.4,1018.8 1183.0,1018.5 1184.6,1018.3 1186.2,1018.0 1187.8,1017.8 1189.4,1017.5 1191.0,1017.3 1192.6,1017.0 1194.2,1016.8 1195.8,1016.5 1197.4,1016.2 1199.0,1016.0 1200.6,1015.7 1202.2,1015.4 1203.8,1015.2 1205.4,1014.9 1207.0,1014.6 1208.6,1014.4 1210.2,1014.1 1211.8,1013.8 1213.4,1013.5 1215.0,1013.2 1216.6,1013.0 1218.2,1012.7 1219.8,1012.4 1221.4,1012.1 1223.0,1011.8 1224.6,1011.5 1226.2,1011.2 1227.8,1011.0 1229.4,1010.7 1231.0,1010.4 1232.6,1010.1 1234.2,1009.8 1235.8,1009.5 1237.4,1009.2 1239.0,1008.9 1240.6,1008.6 1242.2,1008.3 1243.8,1008.0 1245.4,1007.7 1247.0,1007.4 1248.6,1007.1 1250.2,1006.7 1251.8,1006.4 1253.4,1006.1 1255.0,1005.8 1256.6,1005.5 1258.2,1005.1 1259.8,1004.8 1261.4,1004.5 1263.0,1004.2 1264.6,1003.8 1266.2,1003.5 1267.8,1003.2 1269.4,1002.8 1271.0,1002.5 1272.6,1002.2 1273.9,1001.8 1275.2,1001.8 1276.5,1001.2 1277.8,1001.3 1279.1,1000.7 1280.4,1000.8 1281.7,1000.2 1283.0,1000.3 1284.3,999.6 1285.6,999.9 1286.9,998.9 1288.2,999.4 1289.5,998.4 1290.8,998.9 1292.1,997.9 1293.4,998.4 1294.7,997.3 1296.0,998.0 1297.3,996.9 1298.6,997.5 1299.9,996.3 1301.2,997.0 1302.5,995.7 1303.8,996.6 1305.1,995.3 1306.4,996.1 1307.7,994.8 1309.0,995.6 1310.3,994.2 1311.6,995.2 1312.9,993.8 1314.2,994.7 1315.5,993.2 1316.8,994.2 1318.1,992.6 1319.4,993.8 1320.7,992.1 1322.0,993.3 1323.3,991.8 1324.6,992.8 1325.9,991.3 1327.2,992.4 1328.5,990.7 1329.8,991.9 1331.1,990.2 1332.4,991.5 1333.7,989.7 1335.0,991.0 1336.3,989.2 1337.6,990.6 1338.9,988.7 1340.2,990.1 1341.5,988.0 1342.8,989.7 1344.1,987.7 1345.4,989.3 1346.7,987.0 1348.0,988.9 1349.3,986.3 1350.6,988.5 1351.9,984.5 1353.2,988.1 1354.5,985.4 1355.8,987.7 1357.1,984.8 1358.4,987.3 1359.7,984.6 1361.0,987.0 1362.3,982.6 1363.6,986.6 1364.9,983.4 1366.2,986.3 1367.5,983.3 1368.8,986.0 1370.1,981.3 1371.4,985.9 1372.7,981.7 1374.0,986.0 1375.3,982.3 1376.6,986.2 1377.9,981.8 1379.2,986.3 1380.5,978.9 1381.8,986.2 1383.1,980.5 1384.4,986.0 1385.7,980.4 1387.0,985.8 1388.3,979.4 1389.6,985.6 1390.9,980.5 1392.2,985.5 1393.5,979.9 1394.8,985.3 1396.1,979.8 1397.4,985.2 1398.7,975.7 1400.0,985.1 1401.3,979.4 1402.6,985.0 1403.9,979.6 1405.2,985.0 1406.5,978.5 1407.8,984.9 1409.1,980.2 1410.4,985.0 1411.7,979.5 1413.0,985.0 1414.3,973.3 1415.6,985.0 1416.9,980.3 1418.2,986.3 1419.5,981.9 1420.8,987.6 1422.1,978.3 1423.4,987.3 1424.7,982.1 1426.0,986.2 1427.3,980.5 1428.6,984.3 1429.9,979.0 1431.2,982.5 1432.5,976.1 1433.8,981.1 1435.1,976.8 1436.4,979.6 1437.7,976.4 1439.0,978.0 1440.3,974.7 1441.6,976.2 1442.9,973.4 1444.2,974.1 1445.5,971.7 1446.8,972.4 1448.1,969.9 1449.4,971.6 1450.7,968.4 1452.0,970.9 1453.3,966.7 1454.6,970.3 1455.9,965.5 1457.2,969.7 1458.5,965.0 1459.8,969.7 1461.1,964.1 1462.4,970.1 1463.7,955.9 1465.0,969.8 1466.3,963.4 1467.6,969.1 1468.9,963.7 1470.2,968.6 1471.5,962.8 1472.8,968.4 1474.1,958.8 1475.4,968.4 1476.7,963.3 1478.0,968.5 1479.3,963.0 1480.6,967.7 1481.9,960.3 1483.2,965.6 1484.5,959.6 1485.8,964.8 1487.1,960.5 1488.4,965.3 1489.7,961.1 1491.0,965.9 1492.3,953.1 1493.6,965.5 1494.9,960.2 1496.2,964.7 1497.5,959.1 1498.8,963.3 1500.1,957.0 1501.4,961.5 1502.7,956.3 1504.0,960.7 1505.3,955.3 1506.6,960.0 1507.9,955.2 1509.2,959.3 1510.5,953.1 1511.8,958.0 1513.1,953.6 1514.4,956.8 1515.7,952.5 1517.0,955.9 1518.3,948.3 1519.6,955.4 1520.9,951.5 1522.2,955.0 1523.5,951.0 1524.8,954.7 1526.1,950.5 1527.4,954.4 1528.7,949.7 1530.0,954.0 1531.3,950.5 1532.6,953.4 1533.9,949.5 1535.2,952.8 1536.5,949.0 1537.8,952.1 1539.1,947.0 1540.4,951.1 1541.7,947.4 1543.0,949.8 1544.3,946.3 1545.6,948.4 1546.9,944.4 1548.2,947.0 1549.5,944.6 1550.8,946.0 1552.1,943.9 1553.4,945.2 1554.7,943.5 1556.0,944.5 1557.3,943.1 1558.6,943.9 1559.9,942.5 1561.2,943.4 1562.5,942.0 1563.8,942.9 1565.1,941.6 1566.4,942.5 1567.7,941.3 1569.0,942.0 1570.3,940.8 1571.6,941.5 1572.9,940.2 1574.2,941.0 1575.5,939.7 1576.8,940.4 1578.1,939.1 1579.4,939.7 1580.7,938.4 1582.0,939.0 1583.3,937.5 1584.6,938.0 1585.9,936.6 1587.2,936.8 1588.5,935.4 1589.8,935.6 1591.1,934.0 1592.4,934.2 1593.7,932.6 1595.0,932.8 1596.3,931.3 1597.6,931.3 1598.9,929.9 1600.2,930.0 1601.5,928.5 1602.8,928.5 1604.1,927.0 1605.4,926.9 1606.7,925.7 1608.0,925.4 1609.3,924.3 1610.6,923.9 1611.9,922.9 1613.2,922.4 1614.5,921.4 1615.8,920.9 1617.4,920.0 1619.0,919.3 1620.6,918.6 1622.2,917.9 1623.8,916.5 1625.4,915.2 1627.0,913.6 1628.6,912.0 1630.2,910.7 1631.8,909.6 1633.4,908.7 1635.0,908.5 1636.6,908.7 1638.2,908.9 1639.8,909.1 1641.4,909.4 1643.0,909.8 1644.6,910.1 1646.2,910.4 1647.8,910.0 1649.4,909.5 1651.0,909.1 1652.6,908.9 1654.2,908.8 1655.8,908.8 1657.4,908.7 1659.0,908.9 1660.6,909.3 1662.2,909.6 1663.8,910.0 1665.4,909.6 1667.0,908.9 1668.6,908.3 1670.2,907.6 1671.8,907.7 1673.4,907.7 1675.0,907.7 1676.6,907.5 1678.2,907.0 1679.8,906.5 1681.4,906.0 1683.0,905.6 1684.6,905.3 1686.2,905.0 1687.8,904.6 1689.4,904.5 1691.0,904.4 1692.6,904.4 1694.2,904.2 1695.8,903.7 1697.4,903.1 1699.0,902.6 1700.6,902.3 1702.2,902.1 1703.8,902.1 1705.4,902.1 1707.0,902.0 1708.6,901.8 1710.2,901.7 1711.8,901.6 1713.4,902.0 1715.0,902.4 1716.6,902.8 1718.2,903.2 1719.8,903.2 1721.4,903.2 1723.0,903.3 1724.6,903.3 1726.2,903.3 1727.8,903.3 1729.4,903.2 1731.0,902.9 1732.6,902.3 1734.2,901.8 1735.8,901.2 1737.4,901.2 1739.0,901.3 1740.6,901.4 1742.2,901.4 1743.8,901.3 1745.4,901.1 1747.0,900.9 1748.6,900.7 1750.2,900.5 1751.8,900.2 1753.4,899.9 1755.0,899.7 1756.6,899.6 1758.2,899.5 1759.8,899.0 1761.4,897.9 1763.0,896.6 1764.6,895.7 1766.2,895.1 1767.8,895.4 1769.4,895.8 1771.0,896.1 1772.6,896.4 1774.2,896.5 1775.8,896.6 1777.4,896.8 1779.0,896.8 1780.6,896.7 1782.2,896.9 1783.8,897.4 1785.4,898.1 1787.0,898.9 1788.6,899.8 1790.2,900.6 1791.8,901.2 1793.4,901.8 1795.0,902.4 1796.6,903.4 1798.2,904.8 1799.8,906.4 1801.4,907.9 1803.0,908.8 1804.6,909.3 1806.2,909.8 1807.8,910.4 1809.4,911.3 1811.0,912.4 1812.6,913.6 1814.2,914.7 1815.8,915.6 1817.4,916.5 1819.0,917.5 1820.6,918.5 1822.2,919.6 1823.8,920.7 1825.4,921.7 1827.0,923.2 1828.6,924.8 1830.2,926.3 1831.8,927.9 1833.4,928.7 1835.0,929.3 1836.6,930.0 1838.2,930.9 1839.8,932.2 1841.4,933.6 1843.0,935.1 1844.6,936.6 1846.2,937.8 1847.8,939.1 1849.4,940.5 1851.0,942.5 1852.6,944.8 1854.2,947.1 1855.8,949.4 1857.4,951.3 1859.0,953.1 1860.6,954.9 1862.2,956.6 1863.8,957.8 1865.4,959.2 1867.0,960.8 1868.6,963.2 1870.2,966.9 1871.8,970.9 1873.4,975.0 1875.0,978.3 1876.6,981.1 1878.2,984.2 1879.8,987.7 1881.4,992.6 1883.0,997.8 1884.6,1002.9 1886.2,1007.7 1887.8,1011.9 1889.4,1016.0 1891.0,1020.1 1892.6,1024.1 1894.2,1028.2 1895.8,1032.3 1897.4,1036.2 1899.0,1039.3 1900.6,1041.3 1902.2,1042.4 1903.8,1043.3 1905.4,1044.3 1907.0,1045.3 1908.6,1046.3 1910.2,1047.5 1911.8,1048.8 1913.4,1049.9 1915.0,1050.6 1916.6,1050.8 1918.2,1050.5 1919.8,1050.2 1921.4,1050.0 1923.0,1051.0 1924.6,1053.4 1926.2,1056.5 1927.8,1059.5 1929.4,1062.7 1931.0,1065.0 1932.6,1050.6 1934.2,1045.8 1935.8,1067.7 1937.4,1067.0 1939.0,1064.8 1940.6,1062.7 1942.2,1062.0 1943.8,1062.3 1945.4,1063.1 1947.0,1064.4 1948.6,1066.0 1950.2,1072.0 1951.8,1082.3 1953.4,1082.9 1955.0,1039.9 1956.6,1023.8 1958.2,1024.3 1959.8,1052.2 1961.4,1080.2 1963.0,1077.2 1964.6,1068.8 1966.2,1062.4 1967.8,1064.5 1969.4,1073.1 1971.0,1079.0 1972.6,1080.1 1974.2,1080.8 1975.8,1081.4 1977.4,1081.8 1979.0,1082.3 1980.6,1082.9 1982.2,1083.4 1983.8,1083.9 1985.4,1084.5 1987.0,1085.5 1988.6,1087.6 1990.2,1090.4 1991.8,1093.1 1993.4,1094.9 1995.0,1095.2 1996.6,1094.2 1998.2,1092.4 1999.8,1089.8 2001.4,1086.7 2003.0,1080.1 2004.6,1070.8 2006.2,1060.8 2007.8,1051.7 2009.4,1042.1 2011.0,1032.3 2012.6,1023.3 2014.2,1015.6 2015.8,1008.6 2017.4,1002.3 2019.0,997.1 2020.6,993.5 2022.2,990.2 2023.8,987.5 2025.4,986.0 2027.0,986.2 2028.6,988.6 2030.2,992.4 2031.8,996.9 2033.4,1003.4 2035.0,1012.4 2036.6,1021.9 2038.2,1030.1 2039.8,1037.9 2041.4,1045.3 2043.0,1051.4 2044.6,1055.7 2046.2,1059.5 2047.8,1062.5 2049.4,1063.6 2051.0,1062.8 2052.6,1060.6 2054.2,1057.2 2055.8,1053.1 2057.4,1044.1 2059.0,1030.1 2060.6,1015.6 2062.2,1001.8 2063.8,987.0 2065.4,974.6 2067.0,966.8 2068.6,961.0 2070.2,956.3 2071.8,951.9 2073.4,948.2 2074.0,947.0"/>
<path class="curve" stroke="#0000ff" d="M175.0,865.7 176.6,865.7 178.2,865.6 179.8,865.6 181.4,865.6 183.0,865.5 184.6,865.5 186.2,865.4 187.8,865.4 189.4,865.4 191.0,865.3 192.6,865.3 194.2,865.2 195.8,865.2 197.4,865.1 199.0,865.1 200.6,865.0 202.2,864.9 203.8,864.9 205.4,864.8 207.0,864.8 208.6,864.8 210.2,864.8 211.5,864.6 212.8,864.9 214.1,864.4 215.4,864.9 216.7,864.3 218.0,864.9 219.3,864.1 220.6,864.9 221.9,864.1 223.2,864.9 224.5,864.0 225.8,864.9 227.1,864.1 228.4,864.9 229.7,864.2 231.0,864.9 232.3,863.7 233.6,864.9 234.9,863.9 236.2,864.9 237.5,863.6 238.8,864.9 240.1,863.2 241.4,864.9 242.7,862.8 244.0,864.9 245.3,862.4 246.6,864.8 247.9,862.6 249.2,864.7 250.5,863.3 251.8,864.6 253.1,862.0 254.4,868.7 255.7,862.1 257.0,864.3 258.3,862.7 259.6,864.2 260.9,862.6 262.2,864.1 263.5,861.6 264.8,863.9 266.1,861.0 267.4,863.7 268.7,861.4 270.0,863.6 271.3,860.9 272.6,863.4 273.9,860.5 275.2,863.2 276.5,860.3 277.8,863.1 279.1,860.4 280.4,862.9 281.7,861.8 283.0,864.5 284.3,861.0 285.6,862.5 286.9,861.0 288.2,862.3 289.5,859.8 290.8,862.1 292.1,859.0 293.4,861.9 294.7,859.2 296.0,861.8 297.3,858.6 298.6,861.6 299.9,859.1 301.2,861.4 302.5,859.5 303.8,861.2 305.1,859.8 306.4,860.9 307.7,859.4 309.0,860.7 310.3,858.5 311.6,863.0 312.9,858.0 314.2,860.3 315.5,857.6 316.8,860.1 318.1,856.8 319.4,859.8 320.7,857.8 322.0,859.6 323.3,858.0 324.6,859.4 325.9,857.0 327.2,859.1 328.5,856.0 329.8,858.9 331.1,856.6 332.4,858.7 333.7,856.1 335.0,858.5 336.3,855.6 337.6,858.3 338.9,855.7 340.2,859.6 341.5,855.7 342.8,858.0 344.1,855.3 345.4,857.9 346.7,856.4 348.0,857.7 349.3,855.3 350.6,857.6 351.9,855.6 353.2,857.5 354.5,855.2 355.8,857.4 357.1,854.9 358.4,857.3 359.7,855.4 361.0,857.2 362.3,854.7 363.6,857.2 364.9,854.5 366.2,857.3 367.5,854.5 368.8,857.5 370.1,855.5 371.4,857.7 372.7,855.8 374.0,858.1 375.3,855.6 376.6,858.4 377.9,857.7 379.2,858.8 380.5,857.3 381.8,859.2 383.1,857.7 384.4,859.5 385.7,857.2 387.0,859.8 388.3,857.5 389.6,860.1 390.9,858.3 392.2,860.4 393.5,858.6 394.8,860.7 396.1,859.7 397.4,861.1 398.7,860.4 400.0,861.4 401.3,861.0 402.6,861.7 403.9,861.4 405.2,862.1 406.5,861.7 407.8,862.4 409.1,861.9 410.4,862.6 411.7,862.1 413.0,862.9 414.3,862.6 415.6,863.1 416.9,863.0 418.2,863.4 419.8,863.5 421.4,863.7 423.0,864.0 424.6,864.2 426.2,864.4 427.8,864.6 429.4,864.8 431.0,865.0 432.6,865.2 434.2,865.4 435.8,865.6 437.4,865.8 439.0,865.9 440.6,866.1 442.2,866.2 443.8,866.3 445.4,866.5 447.0,866.6 448.6,866.8 450.2,866.9 451.8,867.1 453.4,867.2 455.0,867.4 456.6,867.5 458.2,867.6 459.8,867.7 461.4,867.8 463.0,867.9 464.6,867.9 466.2,868.0 467.8,868.0 469.4,868.0 471.0,868.0 472.6,867.9 474.2,867.8 475.8,867.7 477.4,867.6 479.0,867.4 480.6,867.2 482.2,867.0 483.8,866.8 485.4,866.5 487.0,866.3 488.6,866.0 490.2,865.7 491.8,865.4 493.4,865.1 495.0,864.8 496.6,864.5 498.2,864.1 499.8,863.6 501.4,863.1 503.0,862.5 504.6,862.0 506.2,861.4 507.8,860.8 509.4,860.2 511.0,859.7 512.6,859.1 514.2,858.5 515.8,858.0 517.4,857.4 519.0,856.9 520.6,856.3 522.2,855.8 523.8,855.3 525.4,854.8 527.0,854.3 528.6,853.9 530.2,853.4 531.8,853.0 533.4,852.6 535.0,852.2 536.6,851.8 538.2,851.4 539.8,851.1 541.4,850.7 543.0,850.3 544.6,850.0 546.2,849.6 547.8,849.3 549.4,849.0 551.0,848.7 552.6,848.3 554.2,848.0 555.8,847.7 557.4,847.4 559.0,847.1 560.6,846.8 562.2,846.5 563.8,846.2 565.4,846.0 567.0,845.7 568.6,845.4 570.2,845.1 571.8,844.8 573.4,844.6 575.0,844.3 576.6,844.0 578.2,843.8 579.8,843.5 581.4,843.3 583.0,843.0 584.6,842.7 586.2,842.5 587.8,842.2 589.4,842.0 591.0,841.7 592.6,841.5 594.2,841.2 595.8,841.0 597.4,840.7 599.0,840.5 600.6,840.3 602.2,840.0 603.8,839.8 605.4,839.5 607.0,839.3 608.6,839.0 610.2,838.8 611.8,838.5 613.4,838.3 615.0,838.0 616.6,837.8 618.2,837.5 619.8,837.3 621.4,837.0 623.0,836.8 624.6,836.5 626.2,836.2 627.8,836.0 629.4,835.7 631.0,835.4 632.6,835.2 634.2,834.9 635.8,834.6 637.4,834.3 639.0,834.1 640.6,833.8 642.2,833.5 643.8,833.2 645.4,833.0 647.0,832.7 648.6,832.4 650.2,832.1 651.8,831.8 653.4,831.6 655.0,831.3 656.6,831.0 658.2,830.7 659.8,830.5 661.4,830.2 663.0,829.9 664.6,829.6 666.2,829.4 667.8,829.1 669.4,828.8 671.0,828.6 672.6,828.3 674.2,828.0 675.8,827.8 677.4,827.5 679.0,827.3 680.6,827.0 682.2,826.8 683.8,826.5 685.4,826.3 687.0,826.1 688.6,825.8 690.2,825.6 691.8,825.4 693.4,825.2 695.0,824.9 696.6,824.7 698.2,824.5 699.8,824.3 701.4,824.1 703.0,823.9 704.6,823.8 706.2,823.6 707.8,823.4 709.4,823.2 711.0,823.1 712.6,822.9 714.2,822.7 715.8,822.6 717.4,822.4 719.0,822.3 720.6,822.1 722.2,822.0 723.8,821.8 725.4,821.7 727.0,821.5 728.6,821.4 730.2,821.2 731.8,821.1 733.4,820.9 735.0,820.8 736.6,820.6 738.2,820.5 739.8,820.3 741.4,820.2 743.0,820.0 744.6,819.8 746.2,819.7 747.8,819.5 749.4,819.3 751.0,819.1 752.6,818.9 754.2,818.8 755.8,818.6 757.4,818.4 759.0,818.2 760.6,818.0 762.2,817.8 763.8,817.6 765.4,817.4 767.0,817.1 768.6,816.9 770.2,816.7 771.8,816.5 773.4,816.3 775.0,816.1 776.6,815.8 778.2,815.6 779.8,815.4 781.4,815.2 783.0,814.9 784.6,814.7 786.2,814.5 787.8,814.2 789.4,814.0 791.0,813.8 792.6,813.5 794.2,813.3 795.8,813.1 797.4,812.8 799.0,812.6 800.6,812.4 802.2,812.1 803.8,811.9 805.4,811.7 807.0,811.4 808.6,811.2 810.2,811.0 811.8,810.7 813.4,810.5 815.0,810.3 816.6,810.0 818.2,809.8 819.8,809.6 821.4,809.4 823.0,809.1 824.6,808.9 826.2,808.7 827.8,808.5 829.4,808.3 831.0,808.0 832.6,807.8 834.2,807.6 835.8,807.4 837.4,807.2 839.0,806.9 840.6,806.7 842.2,806.5 843.8,806.3 845.4,806.1 847.0,805.9 848.6,805.6 850.2,805.4 851.8,805.2 853.4,805.0 855.0,804.8 856.6,804.6 858.2,804.3 859.8,804.1 861.4,803.9 863.0,803.7 864.6,803.5 866.2,803.3 867.8,803.1 869.4,802.8 871.0,802.6 872.6,802.4 874.2,802.2 875.8,802.0 877.4,801.8 879.0,801.6 880.6,801.4 882.2,801.1 883.8,800.9 885.4,800.7 887.0,800.5 888.6,800.3 890.2,800.1 891.8,799.9 893.4,799.7 895.0,799.4 896.6,799.2 898.2,799.0 899.8,798.8 901.4,798.6 903.0,798.4 904.6,798.2 906.2,798.0 907.8,797.8 909.4,797.6 911.0,797.4 912.6,797.2 914.2,797.0 915.8,796.8 917.4,796.6 919.0,796.4 920.6,796.2 922.2,796.0 923.8,795.8 925.4,795.6 927.0,795.4 928.6,795.2 930.2,795.0 931.8,794.8 933.4,794.6 935.0,794.4 936.6,794.2 938.2,794.0 939.8,793.8 941.4,793.6 943.0,793.5 944.6,793.3 946.2,793.1 947.8,792.9 949.4,792.7 951.0,792.5 952.6,792.3 954.2,792.1 955.8,791.9 957.4,791.7 959.0,791.5 960.6,791.3 962.2,791.1 963.8,790.9 965.4,790.6 967.0,790.4 968.6,790.2 970.2,790.0 971.8,789.8 973.4,789.6 975.0,789.3 976.6,789.1 978.2,788.9 979.8,788.7 981.4,788.4 983.0,788.2 984.6,787.9 986.2,787.7 987.8,787.4 989.4,787.0 991.0,786.7 992.6,786.4 994.2,786.0 995.8,785.7 997.4,785.3 999.0,784.9 1000.6,784.6 1002.2,784.2 1003.8,783.9 1005.4,783.6 1007.0,783.2 1008.6,782.9 1010.2,782.7 1011.8,782.4 1013.4,782.2 1015.0,781.9 1016.6,781.8 1018.2,781.6 1019.8,781.5 1021.4,781.4 1023.0,781.4 1024.6,781.4 1026.2,781.6 1027.8,781.9 1029.4,782.3 1031.0,782.8 1032.6,783.3 1034.2,783.8 1035.8,784.4 1037.4,784.9 1039.0,785.5 1040.6,786.2 1042.2,787.1 1043.8,788.3 1045.4,791.3 1047.0,794.3 1048.6,793.3 1050.2,786.3 1051.8,784.0 1053.4,784.3 1055.0,784.9 1056.6,785.5 1058.2,786.2 1059.8,786.7 1061.4,787.0 1063.0,786.9 1064.6,786.6 1066.2,786.1 1067.8,785.4 1069.4,784.5 1071.0,783.6 1072.6,782.5 1074.2,781.4 1075.8,780.3 1077.4,779.2 1079.0,778.2 1080.6,777.3 1082.2,776.5 1083.8,775.8 1085.4,775.4 1087.0,775.1 1088.6,774.7 1090.2,774.4 1091.8,774.2 1093.4,773.9 1095.0,773.7 1096.6,773.4 1098.2,773.2 1099.8,773.0 1101.4,772.8 1103.0,772.6 1104.6,772.4 1106.2,772.2 1107.8,772.0 1109.4,771.9 1111.0,771.7 1112.6,771.5 1114.2,771.3 1115.8,771.1 1117.4,771.0 1119.0,770.8 1120.6,770.7 1122.2,770.5 1123.8,770.4 1125.4,770.3 1127.0,770.2 1128.6,770.0 1130.2,769.9 1131.8,769.8 1133.4,769.6 1135.0,769.5 1136.6,769.3 1138.2,769.2 1139.8,769.0 1141.4,768.8 1143.0,768.6 1144.6,768.4 1146.2,768.2 1147.8,768.0 1149.4,767.8 1151.0,767.5 1152.6,767.1 1154.2,766.7 1155.8,766.3 1157.4,765.8 1159.0,765.3 1160.6,764.8 1162.2,764.3 1163.8,763.8 1165.4,763.3 1167.0,762.8 1168.6,762.4 1170.2,762.1 1171.8,761.8 1173.4,761.5 1175.0,761.1 1176.6,760.8 1178.2,760.6 1179.8,760.3 1181.4,760.0 1183.0,759.7 1184.6,759.5 1186.2,759.2 1187.8,759.0 1189.4,758.7 1191.0,758.5 1192.6,758.2 1194.2,758.0 1195.8,757.8 1197.4,757.6 1199.0,757.3 1200.6,757.1 1202.2,756.9 1203.8,756.7 1205.4,756.5 1207.0,756.3 1208.6,756.0 1210.2,755.8 1211.8,755.6 1213.4,755.4 1215.0,755.2 1216.6,755.0 1218.2,754.7 1219.8,754.5 1221.4,754.3 1223.0,754.0 1224.6,753.8 1226.2,753.6 1227.8,753.3 1229.4,753.1 1231.0,752.8 1232.6,752.5 1234.2,752.3 1235.8,752.0 1237.4,751.7 1239.0,751.4 1240.6,751.1 1242.2,750.8 1243.8,750.4 1245.4,750.1 1247.0,749.8 1248.6,749.4 1250.2,749.0 1251.8,748.7 1253.4,748.3 1255.0,747.9 1256.6,747.5 1258.2,747.1 1259.8,746.7 1261.4,746.3 1263.0,745.9 1264.6,745.5 1266.2,745.1 1267.8,744.7 1269.4,744.3 1271.0,743.9 1272.6,743.5 1273.9,743.1 1275.2,742.9 1276.5,742.4 1277.8,742.3 1279.1,741.7 1280.4,741.7 1281.7,741.0 1283.0,741.1 1284.3,740.3 1285.6,740.5 1286.9,739.7 1288.2,739.9 1289.5,739.1 1290.8,739.3 1292.1,738.5 1293.4,738.8 1294.7,737.8 1296.0,738.2 1297.3,737.2 1298.6,737.7 1299.9,736.6 1301.2,737.2 1302.5,736.1 1303.8,736.6 1305.1,735.5 1306.4,736.1 1307.7,734.8 1309.0,735.5 1310.3,734.3 1311.6,735.0 1312.9,733.8 1314.2,734.5 1315.5,733.2 1316.8,733.9 1318.1,732.6 1319.4,733.4 1320.7,731.9 1322.0,732.9 1323.3,731.3 1324.6,732.4 1325.9,731.1 1327.2,731.9 1328.5,730.4 1329.8,731.4 1331.1,729.8 1332.4,730.9 1333.7,729.4 1335.0,730.4 1336.3,728.9 1337.6,729.9 1338.9,728.4 1340.2,729.4 1341.5,727.7 1342.8,729.0 1344.1,727.3 1345.4,728.5 1346.7,726.8 1348.0,728.1 1349.3,726.3 1350.6,727.6 1351.9,724.4 1353.2,727.2 1354.5,725.0 1355.8,726.8 1357.1,724.8 1358.4,726.4 1359.7,724.3 1361.0,726.1 1362.3,722.7 1363.6,725.7 1364.9,723.0 1366.2,725.4 1367.5,722.6 1368.8,725.1 1370.1,721.3 1371.4,724.9 1372.7,721.8 1374.0,724.9 1375.3,721.9 1376.6,724.8 1377.9,721.5 1379.2,724.7 1380.5,719.1 1381.8,724.6 1383.1,720.4 1384.4,724.3 1385.7,719.8 1387.0,724.1 1388.3,719.1 1389.6,723.9 1390.9,720.5 1392.2,723.9 1393.5,719.8 1394.8,723.9 1396.1,719.7 1397.4,724.0 1398.7,716.9 1400.0,724.2 1401.3,720.1 1402.6,724.3 1403.9,719.8 1405.2,724.5 1406.5,719.2 1407.8,724.7 1409.1,720.6 1410.4,724.9 1411.7,720.6 1413.0,725.2 1414.3,716.1 1415.6,725.3 1416.9,721.3 1418.2,726.6 1419.5,723.1 1420.8,727.8 1422.1,720.5 1423.4,727.5 1424.7,722.4 1426.0,726.2 1427.3,721.4 1428.6,724.1 1429.9,719.7 1431.2,721.9 1432.5,716.4 1433.8,720.2 1435.1,716.6 1436.4,718.4 1437.7,715.6 1439.0,716.5 1440.3,713.7 1441.6,714.6 1442.9,712.2 1444.2,712.6 1445.5,710.6 1446.8,710.9 1448.1,709.1 1449.4,710.0 1450.7,707.3 1452.0,709.2 1453.3,705.6 1454.6,708.4 1455.9,703.9 1457.2,707.6 1458.5,703.3 1459.8,707.8 1461.1,703.3 1462.4,708.4 1463.7,697.5 1465.0,708.4 1466.3,703.9 1467.6,708.0 1468.9,703.1 1470.2,707.7 1471.5,703.5 1472.8,707.5 1474.1,700.3 1475.4,707.6 1476.7,703.2 1478.0,707.7 1479.3,702.7 1480.6,707.0 1481.9,701.0 1483.2,704.9 1484.5,699.8 1485.8,704.0 1487.1,700.1 1488.4,704.4 1489.7,700.3 1491.0,704.8 1492.3,695.0 1493.6,704.6 1494.9,700.6 1496.2,703.9 1497.5,699.6 1498.8,702.7 1500.1,697.7 1501.4,701.0 1502.7,697.4 1504.0,700.1 1505.3,695.9 1506.6,699.3 1507.9,695.5 1509.2,698.5 1510.5,693.4 1511.8,697.3 1513.1,692.8 1514.4,696.1 1515.7,691.9 1517.0,695.2 1518.3,689.4 1519.6,694.7 1520.9,691.1 1522.2,694.3 1523.5,691.1 1524.8,694.0 1526.1,691.2 1527.4,693.7 1528.7,690.1 1530.0,693.3 1531.3,690.5 1532.6,692.8 1533.9,690.0 1535.2,692.2 1536.5,689.1 1537.8,691.6 1539.1,687.4 1540.4,690.6 1541.7,687.5 1543.0,689.2 1544.3,686.4 1545.6,687.7 1546.9,684.3 1548.2,686.3 1549.5,684.1 1550.8,685.2 1552.1,683.5 1553.4,684.4 1554.7,682.8 1556.0,683.7 1557.3,682.1 1558.6,683.0 1559.9,681.7 1561.2,682.5 1562.5,681.3 1563.8,682.0 1565.1,680.7 1566.4,681.5 1567.7,680.3 1569.0,681.0 1570.3,679.8 1571.6,680.4 1572.9,679.3 1574.2,679.8 1575.5,678.7 1576.8,679.2 1578.1,677.9 1579.4,678.4 1580.7,677.3 1582.0,677.5 1583.3,676.3 1584.6,676.4 1585.9,675.1 1587.2,675.0 1588.5,673.6 1589.8,673.4 1591.1,671.9 1592.4,671.8 1593.7,670.3 1595.0,670.0 1596.3,668.7 1597.6,668.4 1598.9,667.0 1600.2,666.8 1601.5,665.5 1602.8,665.2 1604.1,664.0 1605.4,663.7 1606.7,662.4 1608.0,661.9 1609.3,660.7 1610.6,660.1 1611.9,659.2 1613.2,658.8 1614.5,658.0 1615.8,657.6 1617.4,656.3 1619.0,654.8 1620.6,653.3 1622.2,651.7 1623.8,650.4 1625.4,649.3 1627.0,648.3 1628.6,647.7 1630.2,647.5 1631.8,647.4 1633.4,647.3 1635.0,647.5 1636.6,647.9 1638.2,648.3 1639.8,648.7 1641.4,648.8 1643.0,648.8 1644.6,648.8 1646.2,648.7 1647.8,648.4 1649.4,648.1 1651.0,647.8 1652.6,647.7 1654.2,647.9 1655.8,648.1 1657.4,648.4 1659.0,648.8 1660.6,649.3 1662.2,649.6 1663.8,649.7 1665.4,650.0 1667.0,650.3 1668.6,650.5 1670.2,650.7 1671.8,650.3 1673.4,650.0 1675.0,649.6 1676.6,649.2 1678.2,648.8 1679.8,648.4 1681.4,648.0 1683.0,647.8 1684.6,647.7 1686.2,647.7 1687.8,647.7 1689.4,647.3 1691.0,646.8 1692.6,646.4 1694.2,646.0 1695.8,645.9 1697.4,645.8 1699.0,645.7 1700.6,645.8 1702.2,645.9 1703.8,646.1 1705.4,646.3 1707.0,646.6 1708.6,646.8 1710.2,647.1 1711.8,647.4 1713.4,647.4 1715.0,647.4 1716.6,647.5 1718.2,647.5 1719.8,647.7 1721.4,647.8 1723.0,648.0 1724.6,648.0 1726.2,647.9 1727.8,647.7 1729.4,647.5 1731.0,647.3 1732.6,647.2 1734.2,647.0 1735.8,646.8 1737.4,646.1 1739.0,645.4 1740.6,644.6 1742.2,643.8 1743.8,643.4 1745.4,643.1 1747.0,642.8 1748.6,642.3 1750.2,641.6 1751.8,640.9 1753.4,640.2 1755.0,639.8 1756.6,639.5 1758.2,639.1 1759.8,638.6 1761.4,637.5 1763.0,636.6 1764.6,635.9 1766.2,635.7 1767.8,635.7 1769.4,635.7 1771.0,635.8 1772.6,635.8 1774.2,635.8 1775.8,635.8 1777.4,635.9 1779.0,636.0 1780.6,636.0 1782.2,636.1 1783.8,636.2 1785.4,637.0 1787.0,637.9 1788.6,638.8 1790.2,639.6 1791.8,639.8 1793.4,640.0 1795.0,640.3 1796.6,640.7 1798.2,641.4 1799.8,642.1 1801.4,642.9 1803.0,643.1 1804.6,642.9 1806.2,642.7 1807.8,642.6 1809.4,643.3 1811.0,644.2 1812.6,645.0 1814.2,645.9 1815.8,646.7 1817.4,647.4 1819.0,648.2 1820.6,649.0 1822.2,649.7 1823.8,650.5 1825.4,651.2 1827.0,651.4 1828.6,651.2 1830.2,651.1 1831.8,650.9 1833.4,651.3 1835.0,651.7 1836.6,652.2 1838.2,652.8 1839.8,653.9 1841.4,655.1 1843.0,656.4 1844.6,657.4 1846.2,658.0 1847.8,658.6 1849.4,659.4 1851.0,660.6 1852.6,662.0 1854.2,663.4 1855.8,664.9 1857.4,666.5 1859.0,668.1 1860.6,669.8 1862.2,671.6 1863.8,673.4 1865.4,675.4 1867.0,677.6 1868.6,679.8 1870.2,682.2 1871.8,684.7 1873.4,687.5 1875.0,690.0 1876.6,692.4 1878.2,695.2 1879.8,698.4 1881.4,702.8 1883.0,707.6 1884.6,712.4 1886.2,717.1 1887.8,721.3 1889.4,725.6 1891.0,729.9 1892.6,734.3 1894.2,738.7 1895.8,743.1 1897.4,747.4 1899.0,751.0 1900.6,753.4 1902.2,754.9 1903.8,755.9 1905.4,756.8 1907.0,757.6 1908.6,758.5 1910.2,759.6 1911.8,760.6 1913.4,761.5 1915.0,762.1 1916.6,762.2 1918.2,762.2 1919.8,762.2 1921.4,762.2 1923.0,762.2 1924.6,763.4 1926.2,766.3 1927.8,769.4 1929.4,772.0 1931.0,771.4 1932.6,758.3 1934.2,768.5 1935.8,775.8 1937.4,775.0 1939.0,773.8 1940.6,772.8 1942.2,772.5 1943.8,772.8 1945.4,773.4 1947.0,774.4 1948.6,775.7 1950.2,781.2 1951.8,790.6 1953.4,791.0 1955.0,749.2 1956.6,733.5 1958.2,734.0 1959.8,761.5 1961.4,789.1 1963.0,786.9 1964.6,780.1 1966.2,773.9 1967.8,773.4 1969.4,781.0 1971.0,787.0 1972.6,788.1 1974.2,789.0 1975.8,789.6 1977.4,790.1 1979.0,790.4 1980.6,790.7 1982.2,790.8 1983.8,790.9 1985.4,791.1 1987.0,791.6 1988.6,793.3 1990.2,795.8 1991.8,797.7 1993.4,798.1 1995.0,797.2 1996.6,795.3 1998.2,792.6 1999.8,789.4 2001.4,784.5 2003.0,776.1 2004.6,765.8 2006.2,755.3 2007.8,745.8 2009.4,736.2 2011.0,726.4 2012.6,716.8 2014.2,707.7 2015.8,698.1 2017.4,688.7 2019.0,681.5 2020.6,677.5 2022.2,674.5 2023.8,672.2 2025.4,670.7 2027.0,670.4 2028.6,672.9 2030.2,677.4 2031.8,682.7 2033.4,689.6 2035.0,698.7 2036.6,708.0 2038.2,715.8 2039.8,723.0 2041.4,729.5 2043.0,734.2 2044.6,737.8 2046.2,740.6 2047.8,741.7 2049.4,741.0 2051.0,739.1 2052.6,736.2 2054.2,732.5 2055.8,726.2 2057.4,711.6 2059.0,693.4 2060.6,676.5 2062.2,658.4 2063.8,641.3 2065.4,629.7 2067.0,622.2 2068.6,616.4 2070.2,611.4 2071.8,606.9 2073.4,603.2 2074.0,602.0"/>
<path class="curve" stroke="#00ff00" d="M175.0,575.7 176.6,575.7 178.2,575.6 179.8,575.6 181.4,575.6 183.0,575.5 184.6,575.5 186.2,575.4 187.8,575.4 189.4,575.4 191.0,575.3 192.6,575.3 194.2,575.2 195.8,575.2 197.4,575.1 199.0,575.1 200.6,575.0 202.2,574.9 203.8,574.9 205.4,574.8 207.0,574.8 208.6,574.8 210.2,574.8 211.5,574.5 212.8,574.9 214.1,574.4 215.4,574.9 216.7,574.5 218.0,574.9 219.3,574.4 220.6,574.9 221.9,574.4 223.2,574.9 224.5,574.0 225.8,574.9 227.1,573.6 228.4,574.9 229.7,573.4 231.0,574.9 232.3,573.1 233.6,574.9 234.9,572.7 236.2,574.9 237.5,573.1 238.8,574.9 240.1,573.0 241.4,574.9 242.7,572.9 244.0,574.8 245.3,573.2 246.6,574.8 247.9,573.3 249.2,574.7 250.5,572.4 251.8,574.6 253.1,573.0 254.4,578.0 255.7,572.4 257.0,574.4 258.3,571.7 259.6,574.3 260.9,571.5 262.2,574.2 263.5,571.9 264.8,574.1 266.1,572.9 267.4,574.0 268.7,572.5 270.0,573.9 271.3,571.3 272.6,573.8 273.9,570.9 275.2,573.7 276.5,570.8 277.8,573.6 279.1,570.5 280.4,573.4 281.7,570.9 283.0,575.2 284.3,571.2 285.6,573.2 286.9,571.6 288.2,573.1 289.5,571.3 290.8,573.0 292.1,571.2 293.4,572.9 294.7,571.2 296.0,572.7 297.3,569.6 298.6,572.6 299.9,571.2 301.2,572.5 302.5,570.9 303.8,572.3 305.1,570.7 306.4,572.2 307.7,570.5 309.0,572.0 310.3,570.4 311.6,574.5 312.9,570.4 314.2,571.7 315.5,570.1 316.8,571.5 318.1,570.2 319.4,571.3 320.7,568.8 322.0,571.1 323.3,568.7 324.6,570.8 325.9,569.5 327.2,570.6 328.5,569.1 329.8,570.4 331.1,568.0 332.4,570.2 333.7,568.2 335.0,570.0 336.3,567.5 337.6,569.8 338.9,567.3 340.2,571.2 341.5,567.7 342.8,569.5 344.1,568.3 345.4,569.3 346.7,567.9 348.0,569.1 349.3,567.7 350.6,568.9 351.9,567.5 353.2,568.8 354.5,567.1 355.8,568.7 357.1,566.8 358.4,568.6 359.7,566.9 361.0,568.6 362.3,566.4 363.6,568.7 364.9,566.2 366.2,568.9 367.5,567.2 368.8,569.1 370.1,567.4 371.4,569.4 372.7,567.1 374.0,569.7 375.3,567.4 376.6,570.1 377.9,569.3 379.2,570.4 380.5,569.7 381.8,570.7 383.1,569.3 384.4,571.0 385.7,569.6 387.0,571.2 388.3,570.0 389.6,571.4 390.9,570.3 392.2,571.6 393.5,570.5 394.8,571.8 396.1,570.3 397.4,572.0 398.7,571.3 400.0,572.2 401.3,571.4 402.6,572.4 403.9,571.2 405.2,572.6 406.5,571.5 407.8,572.7 409.1,572.2 410.4,572.9 411.7,572.7 413.0,573.0 414.3,572.6 415.6,573.2 416.9,573.1 418.2,573.4 419.8,573.5 421.4,573.7 423.0,573.9 424.6,574.0 426.2,574.2 427.8,574.4 429.4,574.6 431.0,574.7 432.6,574.9 434.2,575.0 435.8,575.2 437.4,575.3 439.0,575.4 440.6,575.5 442.2,575.7 443.8,575.8 445.4,575.9 447.0,576.0 448.6,576.1 450.2,576.2 451.8,576.3 453.4,576.4 455.0,576.5 456.6,576.6 458.2,576.7 459.8,576.8 461.4,576.8 463.0,576.9 464.6,576.9 466.2,577.0 467.8,577.0 469.4,577.0 471.0,577.0 472.6,577.0 474.2,576.9 475.8,576.8 477.4,576.7 479.0,576.6 480.6,576.5 482.2,576.3 483.8,576.2 485.4,576.0 487.0,575.8 488.6,575.6 490.2,575.4 491.8,575.2 493.4,575.0 495.0,574.7 496.6,574.5 498.2,574.2 499.8,573.8 501.4,573.3 503.0,572.8 504.6,572.3 506.2,571.7 507.8,571.2 509.4,570.7 511.0,570.2 512.6,569.7 514.2,569.2 515.8,568.6 517.4,568.1 519.0,567.6 520.6,567.1 522.2,566.6 523.8,566.2 525.4,565.7 527.0,565.4 528.6,565.0 530.2,564.7 531.8,564.3 533.4,564.0 535.0,563.7 536.6,563.4 538.2,563.1 539.8,562.9 541.4,562.6 543.0,562.3 544.6,562.0 546.2,561.8 547.8,561.5 549.4,561.3 551.0,561.0 552.6,560.8 554.2,560.5 555.8,560.3 557.4,560.1 559.0,559.8 560.6,559.6 562.2,559.4 563.8,559.2 565.4,558.9 567.0,558.7 568.6,558.5 570.2,558.3 571.8,558.1 573.4,557.9 575.0,557.7 576.6,557.5 578.2,557.3 579.8,557.1 581.4,556.9 583.0,556.7 584.6,556.5 586.2,556.3 587.8,556.1 589.4,555.9 591.0,555.7 592.6,555.5 594.2,555.3 595.8,555.1 597.4,554.9 599.0,554.7 600.6,554.5 602.2,554.3 603.8,554.1 605.4,553.9 607.0,553.7 608.6,553.5 610.2,553.3 611.8,553.1 613.4,552.9 615.0,552.7 616.6,552.5 618.2,552.3 619.8,552.1 621.4,551.9 623.0,551.7 624.6,551.5 626.2,551.2 627.8,551.0 629.4,550.8 631.0,550.6 632.6,550.3 634.2,550.1 635.8,549.8 637.4,549.6 639.0,549.3 640.6,549.1 642.2,548.8 643.8,548.6 645.4,548.3 647.0,548.1 648.6,547.8 650.2,547.5 651.8,547.3 653.4,547.0 655.0,546.8 656.6,546.5 658.2,546.2 659.8,546.0 661.4,545.7 663.0,545.4 664.6,545.2 666.2,544.9 667.8,544.7 669.4,544.4 671.0,544.2 672.6,543.9 674.2,543.7 675.8,543.4 677.4,543.2 679.0,543.0 680.6,542.7 682.2,542.5 683.8,542.3 685.4,542.1 687.0,541.9 688.6,541.7 690.2,541.5 691.8,541.3 693.4,541.1 695.0,540.9 696.6,540.7 698.2,540.6 699.8,540.4 701.4,540.3 703.0,540.1 704.6,540.0 706.2,539.8 707.8,539.7 709.4,539.6 711.0,539.5 712.6,539.4 714.2,539.2 715.8,539.1 717.4,539.0 719.0,538.9 720.6,538.8 722.2,538.7 723.8,538.6 725.4,538.5 727.0,538.4 728.6,538.3 730.2,538.2 731.8,538.1 733.4,538.0 735.0,537.9 736.6,537.8 738.2,537.7 739.8,537.6 741.4,537.4 743.0,537.3 744.6,537.2 746.2,537.1 747.8,536.9 749.4,536.8 751.0,536.6 752.6,536.5 754.2,536.3 755.8,536.1 757.4,536.0 759.0,535.8 760.6,535.6 762.2,535.4 763.8,535.2 765.4,534.9 767.0,534.7 768.6,534.5 770.2,534.3 771.8,534.0 773.4,533.8 775.0,533.6 776.6,533.3 778.2,533.1 779.8,532.8 781.4,532.6 783.0,532.3 784.6,532.0 786.2,531.8 787.8,531.5 789.4,531.2 791.0,531.0 792.6,530.7 794.2,530.4 795.8,530.2 797.4,529.9 799.0,529.6 800.6,529.3 802.2,529.1 803.8,528.8 805.4,528.5 807.0,528.3 808.6,528.0 810.2,527.7 811.8,527.5 813.4,527.2 815.0,527.0 816.6,526.7 818.2,526.5 819.8,526.2 821.4,526.0 823.0,525.7 824.6,525.5 826.2,525.3 827.8,525.1 829.4,524.9 831.0,524.6 832.6,524.4 834.2,524.2 835.8,524.0 837.4,523.8 839.0,523.6 840.6,523.4 842.2,523.2 843.8,523.0 845.4,522.8 847.0,522.5 848.6,522.3 850.2,522.1 851.8,521.9 853.4,521.7 855.0,521.5 856.6,521.3 858.2,521.1 859.8,521.0 861.4,520.8 863.0,520.6 864.6,520.4 866.2,520.2 867.8,520.0 869.4,519.8 871.0,519.6 872.6,519.4 874.2,519.2 875.8,519.0 877.4,518.8 879.0,518.6 880.6,518.4 882.2,518.3 883.8,518.1 885.4,517.9 887.0,517.7 888.6,517.5 890.2,517.3 891.8,517.1 893.4,516.9 895.0,516.7 896.6,516.5 898.2,516.3 899.8,516.2 901.4,516.0 903.0,515.8 904.6,515.6 906.2,515.4 907.8,515.2 909.4,515.0 911.0,514.8 912.6,514.6 914.2,514.5 915.8,514.3 917.4,514.1 919.0,513.9 920.6,513.7 922.2,513.6 923.8,513.4 925.4,513.2 927.0,513.0 928.6,512.8 930.2,512.7 931.8,512.5 933.4,512.3 935.0,512.1 936.6,512.0 938.2,511.8 939.8,511.6 941.4,511.4 943.0,511.3 944.6,511.1 946.2,510.9 947.8,510.7 949.4,510.5 951.0,510.4 952.6,510.2 954.2,510.0 955.8,509.8 957.4,509.6 959.0,509.4 960.6,509.3 962.2,509.1 963.8,508.9 965.4,508.7 967.0,508.5 968.6,508.3 970.2,508.1 971.8,507.9 973.4,507.7 975.0,507.5 976.6,507.3 978.2,507.1 979.8,506.8 981.4,506.6 983.0,506.4 984.6,506.2 986.2,505.9 987.8,505.6 989.4,505.3 991.0,505.0 992.6,504.7 994.2,504.3 995.8,504.0 997.4,503.7 999.0,503.3 1000.6,503.0 1002.2,502.6 1003.8,502.3 1005.4,502.0 1007.0,501.7 1008.6,501.4 1010.2,501.1 1011.8,500.9 1013.4,500.6 1015.0,500.4 1016.6,500.3 1018.2,500.1 1019.8,500.0 1021.4,499.9 1023.0,499.9 1024.6,499.9 1026.2,500.0 1027.8,500.2 1029.4,500.5 1031.0,500.8 1032.6,501.1 1034.2,501.5 1035.8,501.9 1037.4,502.3 1039.0,502.8 1040.6,503.4 1042.2,504.2 1043.8,505.3 1045.4,508.0 1047.0,510.9 1048.6,510.1 1050.2,504.0 1051.8,502.0 1053.4,502.2 1055.0,502.6 1056.6,503.0 1058.2,503.4 1059.8,503.8 1061.4,504.0 1063.0,503.9 1064.6,503.6 1066.2,503.1 1067.8,502.4 1069.4,501.5 1071.0,500.5 1072.6,499.5 1074.2,498.4 1075.8,497.3 1077.4,496.2 1079.0,495.1 1080.6,494.2 1082.2,493.4 1083.8,492.8 1085.4,492.3 1087.0,491.9 1088.6,491.6 1090.2,491.3 1091.8,491.0 1093.4,490.7 1095.0,490.5 1096.6,490.2 1098.2,490.0 1099.8,489.8 1101.4,489.6 1103.0,489.4 1104.6,489.2 1106.2,488.9 1107.8,488.7 1109.4,488.5 1111.0,488.3 1112.6,488.0 1114.2,487.8 1115.8,487.5 1117.4,487.3 1119.0,487.1 1120.6,486.8 1122.2,486.6 1123.8,486.4 1125.4,486.2 1127.0,485.9 1128.6,485.7 1130.2,485.5 1131.8,485.3 1133.4,485.0 1135.0,484.8 1136.6,484.6 1138.2,484.4 1139.8,484.1 1141.4,483.9 1143.0,483.6 1144.6,483.4 1146.2,483.2 1147.8,482.9 1149.4,482.7 1151.0,482.4 1152.6,482.2 1154.2,481.9 1155.8,481.7 1157.4,481.4 1159.0,481.1 1160.6,480.9 1162.2,480.6 1163.8,480.4 1165.4,480.1 1167.0,479.8 1168.6,479.6 1170.2,479.3 1171.8,479.0 1173.4,478.8 1175.0,478.5 1176.6,478.2 1178.2,478.0 1179.8,477.7 1181.4,477.4 1183.0,477.2 1184.6,476.9 1186.2,476.6 1187.8,476.3 1189.4,476.1 1191.0,475.8 1192.6,475.5 1194.2,475.2 1195.8,474.9 1197.4,474.6 1199.0,474.4 1200.6,474.1 1202.2,473.8 1203.8,473.5 1205.4,473.2 1207.0,472.9 1208.6,472.6 1210.2,472.3 1211.8,472.0 1213.4,471.7 1215.0,471.4 1216.6,471.1 1218.2,470.8 1219.8,470.5 1221.4,470.2 1223.0,469.9 1224.6,469.6 1226.2,469.3 1227.8,469.0 1229.4,468.7 1231.0,468.4 1232.6,468.1 1234.2,467.8 1235.8,467.4 1237.4,467.1 1239.0,466.8 1240.6,466.5 1242.2,466.2 1243.8,465.8 1245.4,465.5 1247.0,465.1 1248.6,464.8 1250.2,464.4 1251.8,464.1 1253.4,463.7 1255.0,463.4 1256.6,463.0 1258.2,462.6 1259.8,462.2 1261.4,461.9 1263.0,461.5 1264.6,461.1 1266.2,460.7 1267.8,460.4 1269.4,460.0 1271.0,459.6 1272.6,459.2 1273.9,458.8 1275.2,458.8 1276.5,458.2 1277.8,458.2 1279.1,457.5 1280.4,457.6 1281.7,456.9 1283.0,457.1 1284.3,456.4 1285.6,456.5 1286.9,455.8 1288.2,456.0 1289.5,455.2 1290.8,455.5 1292.1,454.6 1293.4,455.0 1294.7,454.0 1296.0,454.5 1297.3,453.4 1298.6,454.0 1299.9,452.8 1301.2,453.4 1302.5,452.2 1303.8,452.9 1305.1,451.8 1306.4,452.4 1307.7,451.3 1309.0,451.9 1310.3,450.6 1311.6,451.4 1312.9,450.1 1314.2,450.9 1315.5,449.5 1316.8,450.4 1318.1,448.9 1319.4,449.9 1320.7,448.5 1322.0,449.4 1323.3,447.9 1324.6,448.9 1325.9,447.3 1327.2,448.4 1328.5,446.7 1329.8,448.0 1331.1,446.1 1332.4,447.5 1333.7,445.7 1335.0,447.1 1336.3,445.3 1337.6,446.6 1338.9,444.8 1340.2,446.2 1341.5,444.0 1342.8,445.8 1344.1,443.6 1345.4,445.5 1346.7,443.1 1348.0,445.1 1349.3,442.8 1350.6,444.8 1351.9,441.3 1353.2,444.5 1354.5,441.8 1355.8,444.2 1357.1,441.4 1358.4,443.9 1359.7,441.4 1361.0,443.6 1362.3,439.7 1363.6,443.4 1364.9,440.0 1366.2,443.1 1367.5,439.7 1368.8,442.8 1370.1,438.1 1371.4,442.6 1372.7,439.5 1374.0,442.5 1375.3,439.3 1376.6,442.4 1377.9,438.5 1379.2,442.3 1380.5,435.8 1381.8,442.1 1383.1,437.0 1384.4,441.7 1385.7,436.9 1387.0,441.4 1388.3,435.3 1389.6,441.2 1390.9,436.1 1392.2,441.1 1393.5,436.5 1394.8,441.2 1396.1,436.8 1397.4,441.3 1398.7,432.8 1400.0,441.4 1401.3,436.9 1402.6,441.5 1403.9,436.8 1405.2,441.6 1406.5,435.5 1407.8,441.8 1409.1,436.9 1410.4,441.9 1411.7,436.7 1413.0,442.0 1414.3,431.0 1415.6,442.0 1416.9,436.8 1418.2,443.2 1419.5,438.4 1420.8,444.4 1422.1,435.6 1423.4,444.0 1424.7,438.6 1426.0,442.7 1427.3,437.4 1428.6,440.5 1429.9,435.4 1431.2,438.4 1432.5,431.9 1433.8,436.6 1435.1,432.3 1436.4,434.8 1437.7,431.4 1439.0,432.9 1440.3,430.0 1441.6,430.9 1442.9,428.3 1444.2,428.9 1445.5,426.5 1446.8,427.2 1448.1,424.8 1449.4,426.4 1450.7,423.3 1452.0,425.7 1453.3,421.7 1454.6,425.0 1455.9,420.4 1457.2,424.2 1458.5,419.3 1459.8,424.5 1461.1,419.1 1462.4,425.2 1463.7,411.6 1465.0,425.2 1466.3,420.2 1467.6,424.7 1468.9,420.0 1470.2,424.3 1471.5,418.5 1472.8,424.1 1474.1,415.5 1475.4,424.1 1476.7,418.9 1478.0,424.2 1479.3,418.4 1480.6,423.5 1481.9,416.5 1483.2,421.4 1484.5,416.0 1485.8,420.6 1487.1,416.7 1488.4,421.0 1489.7,416.4 1491.0,421.5 1492.3,409.4 1493.6,421.2 1494.9,416.4 1496.2,420.4 1497.5,415.1 1498.8,419.0 1500.1,412.8 1501.4,417.0 1502.7,411.8 1504.0,415.7 1505.3,410.9 1506.6,414.7 1507.9,410.2 1509.2,413.6 1510.5,407.2 1511.8,411.9 1513.1,406.8 1514.4,410.3 1515.7,405.3 1517.0,409.3 1518.3,402.5 1519.6,408.7 1520.9,404.5 1522.2,408.3 1523.5,404.1 1524.8,408.0 1526.1,403.9 1527.4,407.7 1528.7,403.2 1530.0,407.3 1531.3,404.1 1532.6,406.8 1533.9,403.7 1535.2,406.2 1536.5,403.1 1537.8,405.6 1539.1,400.8 1540.4,404.7 1541.7,402.0 1543.0,403.7 1544.3,401.0 1545.6,402.6 1546.9,398.8 1548.2,401.5 1549.5,399.3 1550.8,400.7 1552.1,398.8 1553.4,400.1 1554.7,398.3 1556.0,399.5 1557.3,397.9 1558.6,399.1 1559.9,397.6 1561.2,398.7 1562.5,397.3 1563.8,398.3 1565.1,397.3 1566.4,398.0 1567.7,396.9 1569.0,397.6 1570.3,396.5 1571.6,397.2 1572.9,396.0 1574.2,396.8 1575.5,395.6 1576.8,396.3 1578.1,395.2 1579.4,395.7 1580.7,394.6 1582.0,395.0 1583.3,393.9 1584.6,394.1 1585.9,392.7 1587.2,392.9 1588.5,391.4 1589.8,391.4 1591.1,390.0 1592.4,389.9 1593.7,388.4 1595.0,388.4 1596.3,387.0 1597.6,387.0 1598.9,385.6 1600.2,385.7 1601.5,384.4 1602.8,384.4 1604.1,383.3 1605.4,383.3 1606.7,382.2 1608.0,382.0 1609.3,381.1 1610.6,380.8 1611.9,379.9 1613.2,379.5 1614.5,378.6 1615.8,378.1 1617.4,377.3 1619.0,376.6 1620.6,375.9 1622.2,375.1 1623.8,374.3 1625.4,373.4 1627.0,372.5 1628.6,371.7 1630.2,371.4 1631.8,371.1 1633.4,371.1 1635.0,370.9 1636.6,370.7 1638.2,370.5 1639.8,370.4 1641.4,370.4 1643.0,370.6 1644.6,370.7 1646.2,370.7 1647.8,370.4 1649.4,370.0 1651.0,369.6 1652.6,369.5 1654.2,370.0 1655.8,370.4 1657.4,370.9 1659.0,370.8 1660.6,370.3 1662.2,369.8 1663.8,369.3 1665.4,369.3 1667.0,369.3 1668.6,369.4 1670.2,369.3 1671.8,369.1 1673.4,368.8 1675.0,368.5 1676.6,368.3 1678.2,368.2 1679.8,368.1 1681.4,368.0 1683.0,367.8 1684.6,367.6 1686.2,367.3 1687.8,367.1 1689.4,366.7 1691.0,366.4 1692.6,366.0 1694.2,365.6 1695.8,365.2 1697.4,364.8 1699.0,364.5 1700.6,364.3 1702.2,364.3 1703.8,364.4 1705.4,364.5 1707.0,364.5 1708.6,364.3 1710.2,364.2 1711.8,364.1 1713.4,364.4 1715.0,364.8 1716.6,365.2 1718.2,365.5 1719.8,365.7 1721.4,365.9 1723.0,366.1 1724.6,366.2 1726.2,366.1 1727.8,366.0 1729.4,365.8 1731.0,365.7 1732.6,365.6 1734.2,365.6 1735.8,365.5 1737.4,364.9 1739.0,364.2 1740.6,363.5 1742.2,362.9 1743.8,362.8 1745.4,362.7 1747.0,362.7 1748.6,362.6 1750.2,362.6 1751.8,362.5 1753.4,362.4 1755.0,362.2 1756.6,362.0 1758.2,361.7 1759.8,361.2 1761.4,360.7 1763.0,360.1 1764.6,359.6 1766.2,359.2 1767.8,358.5 1769.4,358.0 1771.0,357.7 1772.6,357.4 1774.2,357.3 1775.8,357.2 1777.4,357.2 1779.0,357.6 1780.6,358.5 1782.2,359.5 1783.8,360.7 1785.4,361.2 1787.0,361.6 1788.6,362.0 1790.2,362.4 1791.8,363.1 1793.4,363.7 1795.0,364.4 1796.6,365.1 1798.2,365.9 1799.8,366.8 1801.4,367.7 1803.0,368.2 1804.6,368.4 1806.2,368.6 1807.8,368.8 1809.4,369.7 1811.0,370.6 1812.6,371.6 1814.2,372.6 1815.8,373.7 1817.4,374.8 1819.0,375.9 1820.6,376.8 1822.2,377.4 1823.8,377.9 1825.4,378.5 1827.0,379.4 1828.6,380.4 1830.2,381.4 1831.8,382.4 1833.4,382.8 1835.0,383.1 1836.6,383.4 1838.2,383.7 1839.8,384.5 1841.4,385.4 1843.0,386.3 1844.6,387.7 1846.2,389.8 1847.8,392.0 1849.4,394.3 1851.0,395.8 1852.6,396.9 1854.2,398.0 1855.8,399.2 1857.4,400.7 1859.0,402.3 1860.6,404.0 1862.2,405.9 1863.8,408.3 1865.4,411.0 1867.0,413.9 1868.6,417.0 1870.2,420.3 1871.8,424.0 1873.4,427.8 1875.0,432.3 1876.6,437.0 1878.2,441.9 1879.8,447.3 1881.4,452.1 1883.0,456.8 1884.6,461.6 1886.2,466.2 1887.8,471.5 1889.4,476.9 1891.0,482.1 1892.6,487.3 1894.2,492.4 1895.8,497.2 1897.4,501.7 1899.0,505.4 1900.6,508.3 1902.2,510.4 1903.8,512.1 1905.4,513.6 1907.0,514.8 1908.6,515.9 1910.2,517.0 1911.8,518.2 1913.4,519.1 1915.0,519.9 1916.6,520.3 1918.2,520.5 1919.8,520.6 1921.4,520.7 1923.0,521.0 1924.6,522.2 1926.2,524.7 1927.8,527.4 1929.4,529.7 1931.0,530.8 1932.6,520.8 1934.2,525.1 1935.8,533.8 1937.4,533.4 1939.0,532.9 1940.6,532.4 1942.2,532.2 1943.8,532.5 1945.4,533.1 1947.0,534.1 1948.6,535.4 1950.2,540.6 1951.8,549.5 1953.4,550.9 1955.0,523.1 1956.6,507.7 1958.2,507.7 1959.8,527.1 1961.4,552.2 1963.0,550.8 1964.6,546.2 1966.2,542.7 1967.8,544.4 1969.4,551.1 1971.0,556.1 1972.6,557.6 1974.2,558.8 1975.8,559.6 1977.4,560.4 1979.0,561.0 1980.6,561.7 1982.2,562.2 1983.8,562.7 1985.4,563.3 1987.0,564.2 1988.6,566.0 1990.2,568.3 1991.8,570.1 1993.4,570.7 1995.0,570.0 1996.6,568.5 1998.2,566.3 1999.8,563.6 2001.4,559.0 2003.0,550.7 2004.6,540.3 2006.2,529.6 2007.8,519.9 2009.4,509.7 2011.0,499.4 2012.6,489.5 2014.2,480.4 2015.8,471.4 2017.4,462.8 2019.0,456.0 2020.6,451.5 2022.2,447.6 2023.8,444.4 2025.4,442.3 2027.0,441.9 2028.6,444.2 2030.2,448.5 2031.8,453.5 2033.4,460.3 2035.0,469.5 2036.6,478.9 2038.2,486.5 2039.8,493.4 2041.4,499.7 2043.0,504.8 2044.6,508.5 2046.2,511.7 2047.8,513.4 2049.4,512.7 2051.0,510.2 2052.6,506.3 2054.2,501.3 2055.8,495.0 2057.4,481.8 2059.0,463.7 2060.6,445.1 2062.2,428.3 2063.8,410.8 2065.4,396.1 2067.0,385.8 2068.6,377.5 2070.2,371.3 2071.8,366.5 2073.4,362.9 2074.0,362.0"/>
<path class="curve" stroke="#ff00ff" d="M175.0,326.4 176.6,326.4 178.2,326.3 179.8,326.3 181.4,326.3 183.0,326.2 184.6,326.2 186.2,326.1 187.8,326.1 189.4,326.1 191.0,326.0 192.6,326.0 194.2,325.9 195.8,325.9 197.4,325.8 199.0,325.8 200.6,325.7 202.2,325.6 203.8,325.6 205.4,325.5 207.0,325.5 208.6,325.5 210.2,325.5 211.5,325.3 212.8,325.6 214.1,325.1 215.4,325.7 216.7,325.2 218.0,325.7 219.3,325.3 220.6,325.7 221.9,324.6 223.2,325.8 224.5,324.5 225.8,325.8 227.1,324.5 228.4,325.8 229.7,324.4 231.0,325.9 232.3,324.8 233.6,325.9 234.9,323.9 236.2,325.9 237.5,324.4 238.8,325.9 240.1,324.8 241.4,325.9 242.7,325.0 244.0,325.9 245.3,324.6 246.6,325.9 247.9,323.7 249.2,325.7 250.5,323.8 251.8,325.6 253.1,323.9 254.4,330.7 255.7,322.4 257.0,325.2 258.3,322.3 259.6,325.0 260.9,323.2 262.2,324.7 263.5,322.9 264.8,324.4 266.1,321.1 267.4,324.1 268.7,320.8 270.0,323.7 271.3,320.5 272.6,323.4 273.9,320.1 275.2,323.0 276.5,319.4 277.8,322.5 279.1,318.4 280.4,321.8 281.7,317.7 283.0,323.3 284.3,317.9 285.6,320.3 286.9,317.9 288.2,319.6 289.5,316.9 290.8,319.2 292.1,316.2 293.4,319.1 294.7,316.4 296.0,319.5 297.3,317.3 298.6,320.2 299.9,317.0 301.2,321.1 302.5,317.4 303.8,321.9 305.1,320.0 306.4,323.0 307.7,321.9 309.0,324.0 310.3,321.5 311.6,327.6 312.9,320.5 314.2,324.1 315.5,320.3 316.8,323.3 318.1,320.5 319.4,322.2 320.7,320.3 322.0,321.1 323.3,318.7 324.6,320.2 325.9,316.8 327.2,319.5 328.5,315.5 329.8,318.6 331.1,314.9 332.4,317.9 333.7,313.8 335.0,317.2 336.3,314.9 337.6,316.8 338.9,315.3 340.2,319.0 341.5,314.8 342.8,316.7 344.1,314.5 345.4,316.7 346.7,315.2 348.0,316.7 349.3,314.8 350.6,316.7 351.9,313.3 353.2,316.6 354.5,313.0 355.8,316.6 357.1,313.1 358.4,316.6 359.7,313.0 361.0,316.6 362.3,314.2 363.6,316.6 364.9,315.1 366.2,316.6 367.5,315.1 368.8,316.7 370.1,314.6 371.4,317.1 372.7,315.0 374.0,317.5 375.3,315.7 376.6,318.1 377.9,314.8 379.2,318.7 380.5,316.8 381.8,319.3 383.1,316.2 384.4,319.9 385.7,316.7 387.0,320.3 388.3,318.3 389.6,320.6 390.9,319.2 392.2,320.9 393.5,318.2 394.8,321.2 396.1,319.3 397.4,321.5 398.7,319.6 400.0,321.9 401.3,320.0 402.6,322.2 403.9,320.8 405.2,322.5 406.5,321.7 407.8,322.8 409.1,322.1 410.4,323.1 411.7,322.5 413.0,323.4 414.3,323.3 415.6,323.7 416.9,323.6 418.2,324.0 419.8,324.2 421.4,324.5 423.0,324.8 424.6,325.1 426.2,325.4 427.8,325.6 429.4,325.9 431.0,326.2 432.6,326.4 434.2,326.7 435.8,326.9 437.4,327.2 439.0,327.4 440.6,327.6 442.2,327.8 443.8,328.0 445.4,328.2 447.0,328.4 448.6,328.6 450.2,328.8 451.8,329.0 453.4,329.2 455.0,329.4 456.6,329.6 458.2,329.7 459.8,329.9 461.4,330.0 463.0,330.1 464.6,330.2 466.2,330.2 467.8,330.3 469.4,330.3 471.0,330.3 472.6,330.2 474.2,330.1 475.8,330.0 477.4,329.8 479.0,329.7 480.6,329.4 482.2,329.2 483.8,328.9 485.4,328.6 487.0,328.3 488.6,328.0 490.2,327.7 491.8,327.3 493.4,326.9 495.0,326.5 496.6,326.1 498.2,325.6 499.8,324.9 501.4,324.1 503.0,323.1 504.6,322.2 506.2,321.2 507.8,320.2 509.4,319.3 511.0,318.5 512.6,317.6 514.2,316.6 515.8,315.7 517.4,314.7 519.0,313.8 520.6,312.9 522.2,312.1 523.8,311.3 525.4,310.5 527.0,309.9 528.6,309.3 530.2,308.7 531.8,308.1 533.4,307.6 535.0,307.1 536.6,306.6 538.2,306.1 539.8,305.6 541.4,305.2 543.0,304.7 544.6,304.3 546.2,303.8 547.8,303.4 549.4,303.0 551.0,302.5 552.6,302.1 554.2,301.7 555.8,301.3 557.4,300.9 559.0,300.4 560.6,300.0 562.2,299.6 563.8,299.2 565.4,298.8 567.0,298.4 568.6,298.1 570.2,297.7 571.8,297.3 573.4,296.9 575.0,296.5 576.6,296.2 578.2,295.8 579.8,295.4 581.4,295.0 583.0,294.7 584.6,294.3 586.2,294.0 587.8,293.6 589.4,293.3 591.0,292.9 592.6,292.6 594.2,292.2 595.8,291.9 597.4,291.5 599.0,291.2 600.6,290.8 602.2,290.5 603.8,290.2 605.4,289.8 607.0,289.5 608.6,289.2 610.2,288.8 611.8,288.5 613.4,288.2 615.0,287.9 616.6,287.5 618.2,287.2 619.8,286.9 621.4,286.6 623.0,286.3 624.6,285.9 626.2,285.6 627.8,285.3 629.4,285.0 631.0,284.7 632.6,284.4 634.2,284.0 635.8,283.7 637.4,283.4 639.0,283.1 640.6,282.8 642.2,282.5 643.8,282.2 645.4,281.9 647.0,281.6 648.6,281.3 650.2,281.0 651.8,280.7 653.4,280.4 655.0,280.1 656.6,279.8 658.2,279.5 659.8,279.2 661.4,278.9 663.0,278.6 664.6,278.4 666.2,278.1 667.8,277.8 669.4,277.5 671.0,277.2 672.6,277.0 674.2,276.7 675.8,276.4 677.4,276.1 679.0,275.9 680.6,275.6 682.2,275.3 683.8,275.1 685.4,274.8 687.0,274.5 688.6,274.3 690.2,274.0 691.8,273.8 693.4,273.5 695.0,273.3 696.6,273.0 698.2,272.8 699.8,272.5 701.4,272.3 703.0,272.1 704.6,271.8 706.2,271.6 707.8,271.4 709.4,271.2 711.0,270.9 712.6,270.7 714.2,270.5 715.8,270.3 717.4,270.1 719.0,269.9 720.6,269.7 722.2,269.5 723.8,269.3 725.4,269.1 727.0,268.9 728.6,268.7 730.2,268.5 731.8,268.3 733.4,268.1 735.0,267.9 736.6,267.7 738.2,267.5 739.8,267.2 741.4,267.0 743.0,266.8 744.6,266.6 746.2,266.4 747.8,266.1 749.4,265.9 751.0,265.6 752.6,265.4 754.2,265.1 755.8,264.9 757.4,264.6 759.0,264.4 760.6,264.1 762.2,263.8 763.8,263.5 765.4,263.3 767.0,263.0 768.6,262.7 770.2,262.4 771.8,262.1 773.4,261.8 775.0,261.5 776.6,261.2 778.2,260.9 779.8,260.6 781.4,260.3 783.0,260.0 784.6,259.7 786.2,259.4 787.8,259.1 789.4,258.8 791.0,258.5 792.6,258.2 794.2,257.8 795.8,257.5 797.4,257.2 799.0,256.9 800.6,256.6 802.2,256.3 803.8,256.0 805.4,255.7 807.0,255.4 808.6,255.0 810.2,254.7 811.8,254.4 813.4,254.1 815.0,253.8 816.6,253.5 818.2,253.2 819.8,252.9 821.4,252.6 823.0,252.3 824.6,252.1 826.2,251.8 827.8,251.5 829.4,251.2 831.0,250.9 832.6,250.7 834.2,250.4 835.8,250.1 837.4,249.8 839.0,249.6 840.6,249.3 842.2,249.0 843.8,248.7 845.4,248.5 847.0,248.2 848.6,247.9 850.2,247.7 851.8,247.4 853.4,247.1 855.0,246.9 856.6,246.6 858.2,246.3 859.8,246.1 861.4,245.8 863.0,245.5 864.6,245.3 866.2,245.0 867.8,244.8 869.4,244.5 871.0,244.2 872.6,244.0 874.2,243.7 875.8,243.4 877.4,243.2 879.0,242.9 880.6,242.7 882.2,242.4 883.8,242.1 885.4,241.9 887.0,241.6 888.6,241.4 890.2,241.1 891.8,240.8 893.4,240.6 895.0,240.3 896.6,240.0 898.2,239.8 899.8,239.5 901.4,239.2 903.0,239.0 904.6,238.7 906.2,238.5 907.8,238.2 909.4,237.9 911.0,237.7 912.6,237.4 914.2,237.1 915.8,236.9 917.4,236.6 919.0,236.3 920.6,236.1 922.2,235.8 923.8,235.6 925.4,235.3 927.0,235.0 928.6,234.8 930.2,234.5 931.8,234.3 933.4,234.0 935.0,233.7 936.6,233.5 938.2,233.2 939.8,233.0 941.4,232.7 943.0,232.4 944.6,232.2 946.2,231.9 947.8,231.7 949.4,231.4 951.0,231.1 952.6,230.9 954.2,230.6 955.8,230.3 957.4,230.1 959.0,229.8 960.6,229.5 962.2,229.3 963.8,229.0 965.4,228.7 967.0,228.5 968.6,228.2 970.2,227.9 971.8,227.6 973.4,227.4 975.0,227.1 976.6,226.8 978.2,226.5 979.8,226.2 981.4,226.0 983.0,225.7 984.6,225.4 986.2,225.0 987.8,224.7 989.4,224.3 991.0,223.9 992.6,223.5 994.2,223.1 995.8,222.7 997.4,222.3 999.0,221.9 1000.6,221.5 1002.2,221.1 1003.8,220.8 1005.4,220.4 1007.0,220.0 1008.6,219.7 1010.2,219.4 1011.8,219.1 1013.4,218.8 1015.0,218.6 1016.6,218.4 1018.2,218.2 1019.8,218.1 1021.4,218.0 1023.0,218.0 1024.6,218.1 1026.2,218.3 1027.8,218.8 1029.4,219.4 1031.0,220.1 1032.6,220.9 1034.2,221.7 1035.8,222.5 1037.4,223.3 1039.0,224.2 1040.6,225.3 1042.2,226.7 1043.8,228.4 1045.4,232.5 1047.0,236.6 1048.6,235.2 1050.2,225.2 1051.8,222.0 1053.4,222.5 1055.0,223.3 1056.6,224.3 1058.2,225.3 1059.8,226.0 1061.4,226.5 1063.0,226.4 1064.6,225.9 1066.2,225.1 1067.8,223.9 1069.4,222.6 1071.0,221.0 1072.6,219.4 1074.2,217.7 1075.8,216.0 1077.4,214.3 1079.0,212.8 1080.6,211.4 1082.2,210.3 1083.8,209.4 1085.4,208.9 1087.0,208.5 1088.6,208.2 1090.2,207.9 1091.8,207.6 1093.4,207.4 1095.0,207.2 1096.6,206.9 1098.2,206.8 1099.8,206.6 1101.4,206.4 1103.0,206.2 1104.6,206.0 1106.2,205.8 1107.8,205.6 1109.4,205.4 1111.0,205.2 1112.6,204.9 1114.2,204.7 1115.8,204.4 1117.4,204.2 1119.0,203.9 1120.6,203.6 1122.2,203.4 1123.8,203.1 1125.4,202.9 1127.0,202.6 1128.6,202.4 1130.2,202.1 1131.8,201.8 1133.4,201.6 1135.0,201.3 1136.6,201.0 1138.2,200.7 1139.8,200.5 1141.4,200.2 1143.0,199.9 1144.6,199.6 1146.2,199.3 1147.8,199.1 1149.4,198.8 1151.0,198.5 1152.6,198.2 1154.2,197.9 1155.8,197.6 1157.4,197.3 1159.0,197.0 1160.6,196.7 1162.2,196.4 1163.8,196.1 1165.4,195.8 1167.0,195.4 1168.6,195.1 1170.2,194.8 1171.8,194.5 1173.4,194.2 1175.0,193.9 1176.6,193.6 1178.2,193.2 1179.8,192.9 1181.4,192.6 1183.0,192.3 1184.6,192.0 1186.2,191.6 1187.8,191.3 1189.4,191.0 1191.0,190.6 1192.6,190.3 1194.2,190.0 1195.8,189.6 1197.4,189.3 1199.0,188.9 1200.6,188.6 1202.2,188.3 1203.8,187.9 1205.4,187.6 1207.0,187.2 1208.6,186.8 1210.2,186.5 1211.8,186.1 1213.4,185.8 1215.0,185.4 1216.6,185.1 1218.2,184.7 1219.8,184.3 1221.4,184.0 1223.0,183.6 1224.6,183.2 1226.2,182.8 1227.8,182.5 1229.4,182.1 1231.0,181.7 1232.6,181.3 1234.2,180.9 1235.8,180.5 1237.4,180.1 1239.0,179.7 1240.6,179.4 1242.2,178.9 1243.8,178.5 1245.4,178.1 1247.0,177.7 1248.6,177.2 1250.2,176.8 1251.8,176.3 1253.4,175.8 1255.0,175.3 1256.6,174.9 1258.2,174.4 1259.8,173.9 1261.4,173.4 1263.0,172.9 1264.6,172.4 1266.2,171.9 1267.8,171.4 1269.4,170.9 1271.0,170.4 1272.6,170.0 1273.9,169.4 1275.2,169.4 1276.5,168.5 1277.8,168.7 1279.1,167.8 1280.4,168.0 1281.7,167.1 1283.0,167.3 1284.3,166.3 1285.6,166.7 1286.9,165.5 1288.2,166.1 1289.5,164.8 1290.8,165.5 1292.1,164.2 1293.4,165.0 1294.7,163.5 1296.0,164.4 1297.3,163.0 1298.6,163.9 1299.9,162.4 1301.2,163.4 1302.5,161.7 1303.8,162.9 1305.1,161.1 1306.4,162.4 1307.7,160.4 1309.0,161.9 1310.3,159.7 1311.6,161.4 1312.9,159.3 1314.2,160.9 1315.5,158.8 1316.8,160.5 1318.1,158.3 1319.4,160.0 1320.7,157.7 1322.0,159.5 1323.3,157.4 1324.6,159.1 1325.9,156.7 1327.2,158.7 1328.5,155.9 1329.8,158.2 1331.1,155.5 1332.4,157.8 1333.7,155.1 1335.0,157.3 1336.3,154.6 1337.6,156.9 1338.9,154.1 1340.2,156.5 1341.5,153.6 1342.8,156.1 1344.1,152.7 1345.4,155.7 1346.7,152.4 1348.0,155.3 1349.3,152.3 1350.6,154.9 1351.9,149.6 1353.2,154.5 1354.5,150.5 1355.8,154.2 1357.1,149.8 1358.4,153.9 1359.7,149.7 1361.0,153.6 1362.3,147.8 1363.6,153.3 1364.9,148.5 1366.2,153.1 1367.5,148.2 1368.8,153.0 1370.1,146.3 1371.4,153.2 1372.7,147.4 1374.0,153.7 1375.3,147.6 1376.6,154.1 1377.9,147.9 1379.2,154.6 1380.5,144.9 1381.8,154.8 1383.1,147.3 1384.4,154.7 1385.7,148.4 1387.0,154.7 1388.3,145.3 1389.6,154.8 1390.9,147.9 1392.2,154.8 1393.5,148.5 1394.8,155.0 1396.1,147.8 1397.4,155.2 1398.7,142.2 1400.0,155.4 1401.3,149.0 1402.6,155.6 1403.9,147.7 1405.2,155.9 1406.5,146.2 1407.8,156.1 1409.1,149.4 1410.4,156.3 1411.7,149.7 1413.0,156.6 1414.3,140.4 1415.6,156.3 1416.9,149.5 1418.2,157.4 1419.5,149.6 1420.8,158.6 1422.1,145.0 1423.4,157.8 1424.7,150.1 1426.0,156.4 1427.3,148.6 1428.6,153.8 1429.9,146.2 1431.2,151.3 1432.5,142.0 1433.8,149.1 1435.1,142.5 1436.4,146.5 1437.7,141.4 1439.0,143.9 1440.3,139.3 1441.6,141.0 1442.9,136.9 1444.2,137.8 1445.5,134.3 1446.8,135.0 1448.1,131.9 1449.4,133.9 1450.7,129.5 1452.0,133.1 1453.3,127.7 1454.6,132.5 1455.9,125.1 1457.2,132.0 1458.5,125.1 1459.8,132.4 1461.1,125.8 1462.4,133.2 1463.7,112.9 1465.0,133.0 1466.3,124.5 1467.6,131.9 1468.9,122.3 1470.2,131.1 1471.5,121.9 1472.8,130.7 1474.1,116.9 1475.4,130.8 1476.7,124.0 1478.0,131.1 1479.3,123.9 1480.6,130.3 1481.9,120.5 1483.2,128.3 1484.5,121.6 1485.8,127.8 1487.1,120.1 1488.4,128.4 1489.7,121.6 1491.0,129.1 1492.3,110.4 1493.6,128.4 1494.9,119.9 1496.2,126.6 1497.5,118.1 1498.8,124.1 1500.1,115.0 1501.4,121.6 1502.7,115.3 1504.0,120.9 1505.3,114.5 1506.6,120.6 1507.9,114.0 1509.2,120.4 1510.5,111.5 1511.8,119.1 1513.1,112.3 1514.4,117.9 1515.7,112.2 1517.0,116.9 1518.3,106.6 1519.6,116.2 1520.9,109.5 1522.2,115.6 1523.5,110.1 1524.8,115.1 1526.1,110.0 1527.4,114.7 1528.7,108.1 1530.0,114.0 1531.3,108.9 1532.6,113.1 1533.9,107.9 1535.2,112.2 1536.5,107.5 1537.8,111.2 1539.1,104.0 1540.4,110.2 1541.7,105.3 1543.0,109.1 1544.3,104.8 1545.6,107.9 1546.9,102.7 1548.2,106.8 1549.5,103.8 1550.8,105.8 1552.1,103.2 1553.4,105.0 1554.7,102.7 1556.0,104.2 1557.3,102.0 1558.6,103.4 1559.9,101.3 1561.2,102.8 1562.5,100.7 1563.8,102.1 1565.1,100.4 1566.4,101.5 1567.7,99.9 1569.0,100.9 1570.3,99.1 1571.6,100.2 1572.9,98.5 1574.2,99.5 1575.5,97.8 1576.8,98.6 1578.1,96.9 1579.4,97.7 1580.7,95.9 1582.0,96.7 1583.3,94.8 1584.6,95.5 1585.9,93.6 1587.2,94.0 1588.5,92.0 1589.8,92.4 1591.1,90.4 1592.4,90.6 1593.7,88.7 1595.0,88.8 1596.3,86.7 1597.6,87.0 1598.9,84.9 1600.2,85.2 1601.5,83.3 1602.8,83.2 1604.1,81.5 1605.4,81.2 1606.7,79.5 1608.0,79.1 1609.3,77.6 1610.6,77.2 1611.9,76.0 1613.2,75.6 1614.5,74.6 1615.8,74.2 1617.4,72.7 1619.0,71.1 1620.6,69.5 1622.2,67.9 1623.8,66.9 1625.4,66.0 1627.0,65.3 1628.6,64.7 1630.2,64.2 1631.8,63.9 1633.4,63.6 1635.0,63.2 1636.6,62.8 1638.2,62.4 1639.8,62.1 1641.4,62.5 1643.0,63.1 1644.6,63.7 1646.2,64.3 1647.8,64.1 1649.4,63.9 1651.0,63.7 1652.6,63.7 1654.2,63.9 1655.8,64.0 1657.4,64.1 1659.0,64.5 1660.6,65.0 1662.2,65.4 1663.8,65.8 1665.4,65.7 1667.0,65.6 1668.6,65.5 1670.2,65.3 1671.8,64.7 1673.4,64.1 1675.0,63.5 1676.6,63.1 1678.2,63.1 1679.8,63.2 1681.4,63.2 1683.0,63.3 1684.6,63.3 1686.2,63.4 1687.8,63.5 1689.4,63.6 1691.0,63.7 1692.6,63.7 1694.2,63.8 1695.8,64.1 1697.4,64.4 1699.0,64.7 1700.6,64.8 1702.2,64.4 1703.8,64.0 1705.4,63.7 1707.0,63.5 1708.6,63.3 1710.2,63.2 1711.8,63.2 1713.4,63.8 1715.0,64.6 1716.6,65.3 1718.2,66.0 1719.8,65.8 1721.4,65.5 1723.0,65.1 1724.6,65.1 1726.2,65.7 1727.8,66.1 1729.4,66.5 1731.0,66.6 1732.6,66.6 1734.2,66.6 1735.8,66.5 1737.4,66.2 1739.0,65.9 1740.6,65.5 1742.2,65.2 1743.8,64.8 1745.4,64.4 1747.0,64.0 1748.6,63.7 1750.2,63.3 1751.8,62.8 1753.4,62.3 1755.0,61.4 1756.6,60.4 1758.2,59.3 1759.8,58.0 1761.4,57.6 1763.0,57.7 1764.6,58.2 1766.2,58.8 1767.8,58.8 1769.4,58.7 1771.0,58.7 1772.6,58.5 1774.2,58.0 1775.8,57.5 1777.4,57.1 1779.0,57.3 1780.6,57.8 1782.2,58.4 1783.8,59.0 1785.4,59.4 1787.0,59.8 1788.6,60.1 1790.2,60.5 1791.8,61.1 1793.4,61.8 1795.0,62.4 1796.6,63.1 1798.2,63.9 1799.8,64.7 1801.4,65.5 1803.0,65.6 1804.6,65.4 1806.2,65.2 1807.8,65.1 1809.4,66.0 1811.0,67.1 1812.6,68.3 1814.2,69.5 1815.8,70.3 1817.4,71.1 1819.0,71.9 1820.6,72.8 1822.2,73.5 1823.8,74.3 1825.4,75.0 1827.0,75.6 1828.6,76.2 1830.2,76.7 1831.8,77.2 1833.4,78.0 1835.0,79.0 1836.6,79.9 1838.2,81.0 1839.8,82.3 1841.4,83.7 1843.0,85.3 1844.6,86.8 1846.2,88.1 1847.8,89.6 1849.4,91.2 1851.0,93.3 1852.6,95.7 1854.2,98.2 1855.8,100.6 1857.4,101.7 1859.0,102.7 1860.6,103.6 1862.2,104.8 1863.8,107.3 1865.4,110.1 1867.0,113.2 1868.6,116.9 1870.2,121.4 1871.8,126.3 1873.4,131.6 1875.0,136.7 1876.6,141.7 1878.2,147.0 1879.8,153.0 1881.4,159.1 1883.0,165.2 1884.6,171.2 1886.2,176.8 1887.8,182.4 1889.4,187.9 1891.0,193.3 1892.6,198.4 1894.2,202.9 1895.8,207.7 1897.4,212.5 1899.0,217.0 1900.6,220.3 1902.2,222.1 1903.8,223.4 1905.4,224.5 1907.0,225.6 1908.6,226.9 1910.2,228.4 1911.8,229.9 1913.4,231.4 1915.0,232.5 1916.6,233.2 1918.2,233.6 1919.8,233.9 1921.4,234.2 1923.0,234.8 1924.6,236.7 1926.2,240.5 1927.8,244.3 1929.4,247.7 1931.0,247.2 1932.6,232.7 1934.2,243.9 1935.8,251.8 1937.4,251.2 1939.0,250.3 1940.6,249.5 1942.2,249.3 1943.8,249.9 1945.4,251.2 1947.0,253.2 1948.6,255.8 1950.2,264.9 1951.8,280.0 1953.4,281.7 1955.0,222.6 1956.6,173.7 1958.2,173.5 1959.8,196.0 1961.4,254.7 1963.0,262.4 1964.6,251.6 1966.2,242.4 1967.8,245.5 1969.4,258.7 1971.0,269.0 1972.6,272.6 1974.2,275.2 1975.8,277.2 1977.4,279.2 1979.0,281.0 1980.6,282.6 1982.2,283.5 1983.8,283.3 1985.4,281.7 1987.0,281.1 1988.6,283.2 1990.2,287.3 1991.8,291.6 1993.4,294.4 1995.0,294.5 1996.6,293.3 1998.2,291.1 1999.8,288.4 2001.4,283.6 2003.0,274.7 2004.6,263.4 2006.2,251.6 2007.8,240.5 2009.4,228.2 2011.0,215.4 2012.6,203.3 2014.2,193.0 2015.8,183.1 2017.4,174.0 2019.0,167.0 2020.6,162.7 2022.2,159.1 2023.8,156.3 2025.4,154.5 2027.0,154.1 2028.6,156.5 2030.2,161.0 2031.8,166.4 2033.4,174.3 2035.0,185.2 2036.6,196.9 2038.2,207.0 2039.8,216.9 2041.4,226.4 2043.0,234.0 2044.6,239.3 2046.2,243.7 2047.8,245.9 2049.4,245.4 2051.0,243.5 2052.6,240.6 2054.2,236.7 2055.8,230.5 2057.4,216.2 2059.0,198.0 2060.6,180.2 2062.2,159.7 2063.8,139.5 2065.4,124.8 2067.0,114.5 2068.6,106.1 2070.2,99.2 2071.8,93.3 2073.4,88.4 2074.0,87.0"/>
</g>
<g fill="#000000" shape-rendering="crispEdges">
<rect x="175" y="27" width="1903" height="7"/>
<rect x="175" y="1424" width="1903" height="8"/>
<rect x="175" y="27" width="7" height="1429"/>
<rect x="2070" y="27" width="8" height="1405"/>
<rect x="438.2" y="1428" width="7.2" height="28"/>
<rect x="701.5" y="1428" width="7.2" height="28"/>
<rect x="964.8" y="1428" width="7.2" height="28"/>
<rect x="1228.1" y="1428" width="7.2" height="28"/>
<rect x="1491.4" y="1428" width="7.2" height="28"/>
<rect x="1754.6" y="1428" width="7.2" height="28"/>
<rect x="2017.9" y="1428" width="7.2" height="28"/>
<rect x="306.4" y="1428" width="7.4" height="14"/>
<rect x="569.7" y="1428" width="7.4" height="14"/>
<rect x="833.0" y="1428" width="7.4" height="14"/>
<rect x="1096.3" y="1428" width="7.4" height="14"/>
<rect x="1359.6" y="1428" width="7.4" height="14"/>
<rect x="1622.9" y="1428" width="7.4" height="14"/>
<rect x="1886.2" y="1428" width="7.4" height="14"/>
</g>
<text class="tick" x="105.7 141.7 177.7 213.7" y="1525">4000</text>
<text class="tick" x="369.0 405.0 441.0 477.0" y="1525">3500</text>
<text class="tick" x="632.3 668.3 704.3 740.3" y="1525">3000</text>
<text class="tick" x="895.6 931.6 967.6 1003.6" y="1525">2500</text>
<text class="tick" x="1158.9 1194.9 1230.9 1266.9" y="1525">2000</text>
<text class="tick" x="1422.2 1458.2 1494.2 1530.2" y="1525">1500</text>
<text class="tick" x="1685.4 1721.4 1757.4 1793.4" y="1525">1000</text>
<text class="tick" x="1966.7 2002.7 2038.7" y="1525">500</text>
<text class="axis"><tspan x="763.3 842.1 884.2 928.7 967.4 1016.4 1062.9 1133.7 1183.4 1219.7 1256.5" y="1670.8" font-size="83">Wavenumber </tspan><tspan x="1273.8" y="1663.5" font-size="73">(</tspan><tspan x="1297.4 1333.1" y="1670.8" font-size="83">cm</tspan><tspan x="1399.1" y="1646.6" font-size="66">−</tspan><tspan x="1431.3" y="1641.3" font-size="61">1</tspan><tspan x="1463.3" y="1663.5" font-size="73">)</tspan></text>
<text class="axis" transform="rotate(-90)"><tspan x="-1077.5 -1025.4 -993.2 -951.1 -901.8 -868.8 -797.5 -773.9 -746.9 -706.0 -659.4 -623.5 -586.6" y="82.2" font-size="83">Transmitance </tspan><tspan x="-561.9" y="75.2" font-size="73">(</tspan><tspan x="-539.1 -498.4 -476.7 -430.4" y="82.2" font-size="83">a.u.</tspan><tspan x="-409.8" y="75.2" font-size="73">)</tspan></text>
<text class="lab"><tspan x="187.2 235.5 254.0 295.6 315.6" y="244.5" font-size="61">NiTiO</tspan><tspan x="362.7" y="260.1" font-size="39" font-weight="normal" stroke="#000" stroke-width="0.7">3</tspan><tspan x="382.5 397.7 418.1 430.6 462.1 486.4 544.3 587.1" y="244.5" font-size="61"> - 10%Co</tspan></text>
<text class="lab"><tspan x="189.0 237.3 255.8 297.4 317.4" y="500.1" font-size="61">NiTiO</tspan><tspan x="364.5" y="515.7" font-size="39" font-weight="normal" stroke="#000" stroke-width="0.7">3</tspan><tspan x="384.3 399.5 419.9 432.8 458.4 516.3 558.9" y="500.1" font-size="61"> - 5%Co</tspan></text>
<text class="lab"><tspan x="186.8 235.1 253.6 295.2 315.2" y="755.8" font-size="61">NiTiO</tspan><tspan x="362.3" y="771.4" font-size="39" font-weight="normal" stroke="#000" stroke-width="0.7">3</tspan><tspan x="382.1 397.3 417.7 430.6 456.2 514.1 556.6" y="755.8" font-size="61"> - 3%Co</tspan></text>
<text class="lab"><tspan x="189.7 238.0 256.5 298.1 318.1" y="1025.8" font-size="61">NiTiO</tspan><tspan x="365.2" y="1041.4" font-size="39" font-weight="normal" stroke="#000" stroke-width="0.7">3</tspan><tspan x="385.0 400.2 420.6 432.8 459.1 517.0 559.6" y="1025.8" font-size="61"> - 1%Co</tspan></text>
<text class="lab"><tspan x="189.0 237.3 255.8 297.4 317.4" y="1260.8" font-size="61">NiTiO</tspan><tspan x="364.5" y="1276.4" font-size="39" font-weight="normal" stroke="#000" stroke-width="0.7">3</tspan></text>
</svg>
</body>
</html>
